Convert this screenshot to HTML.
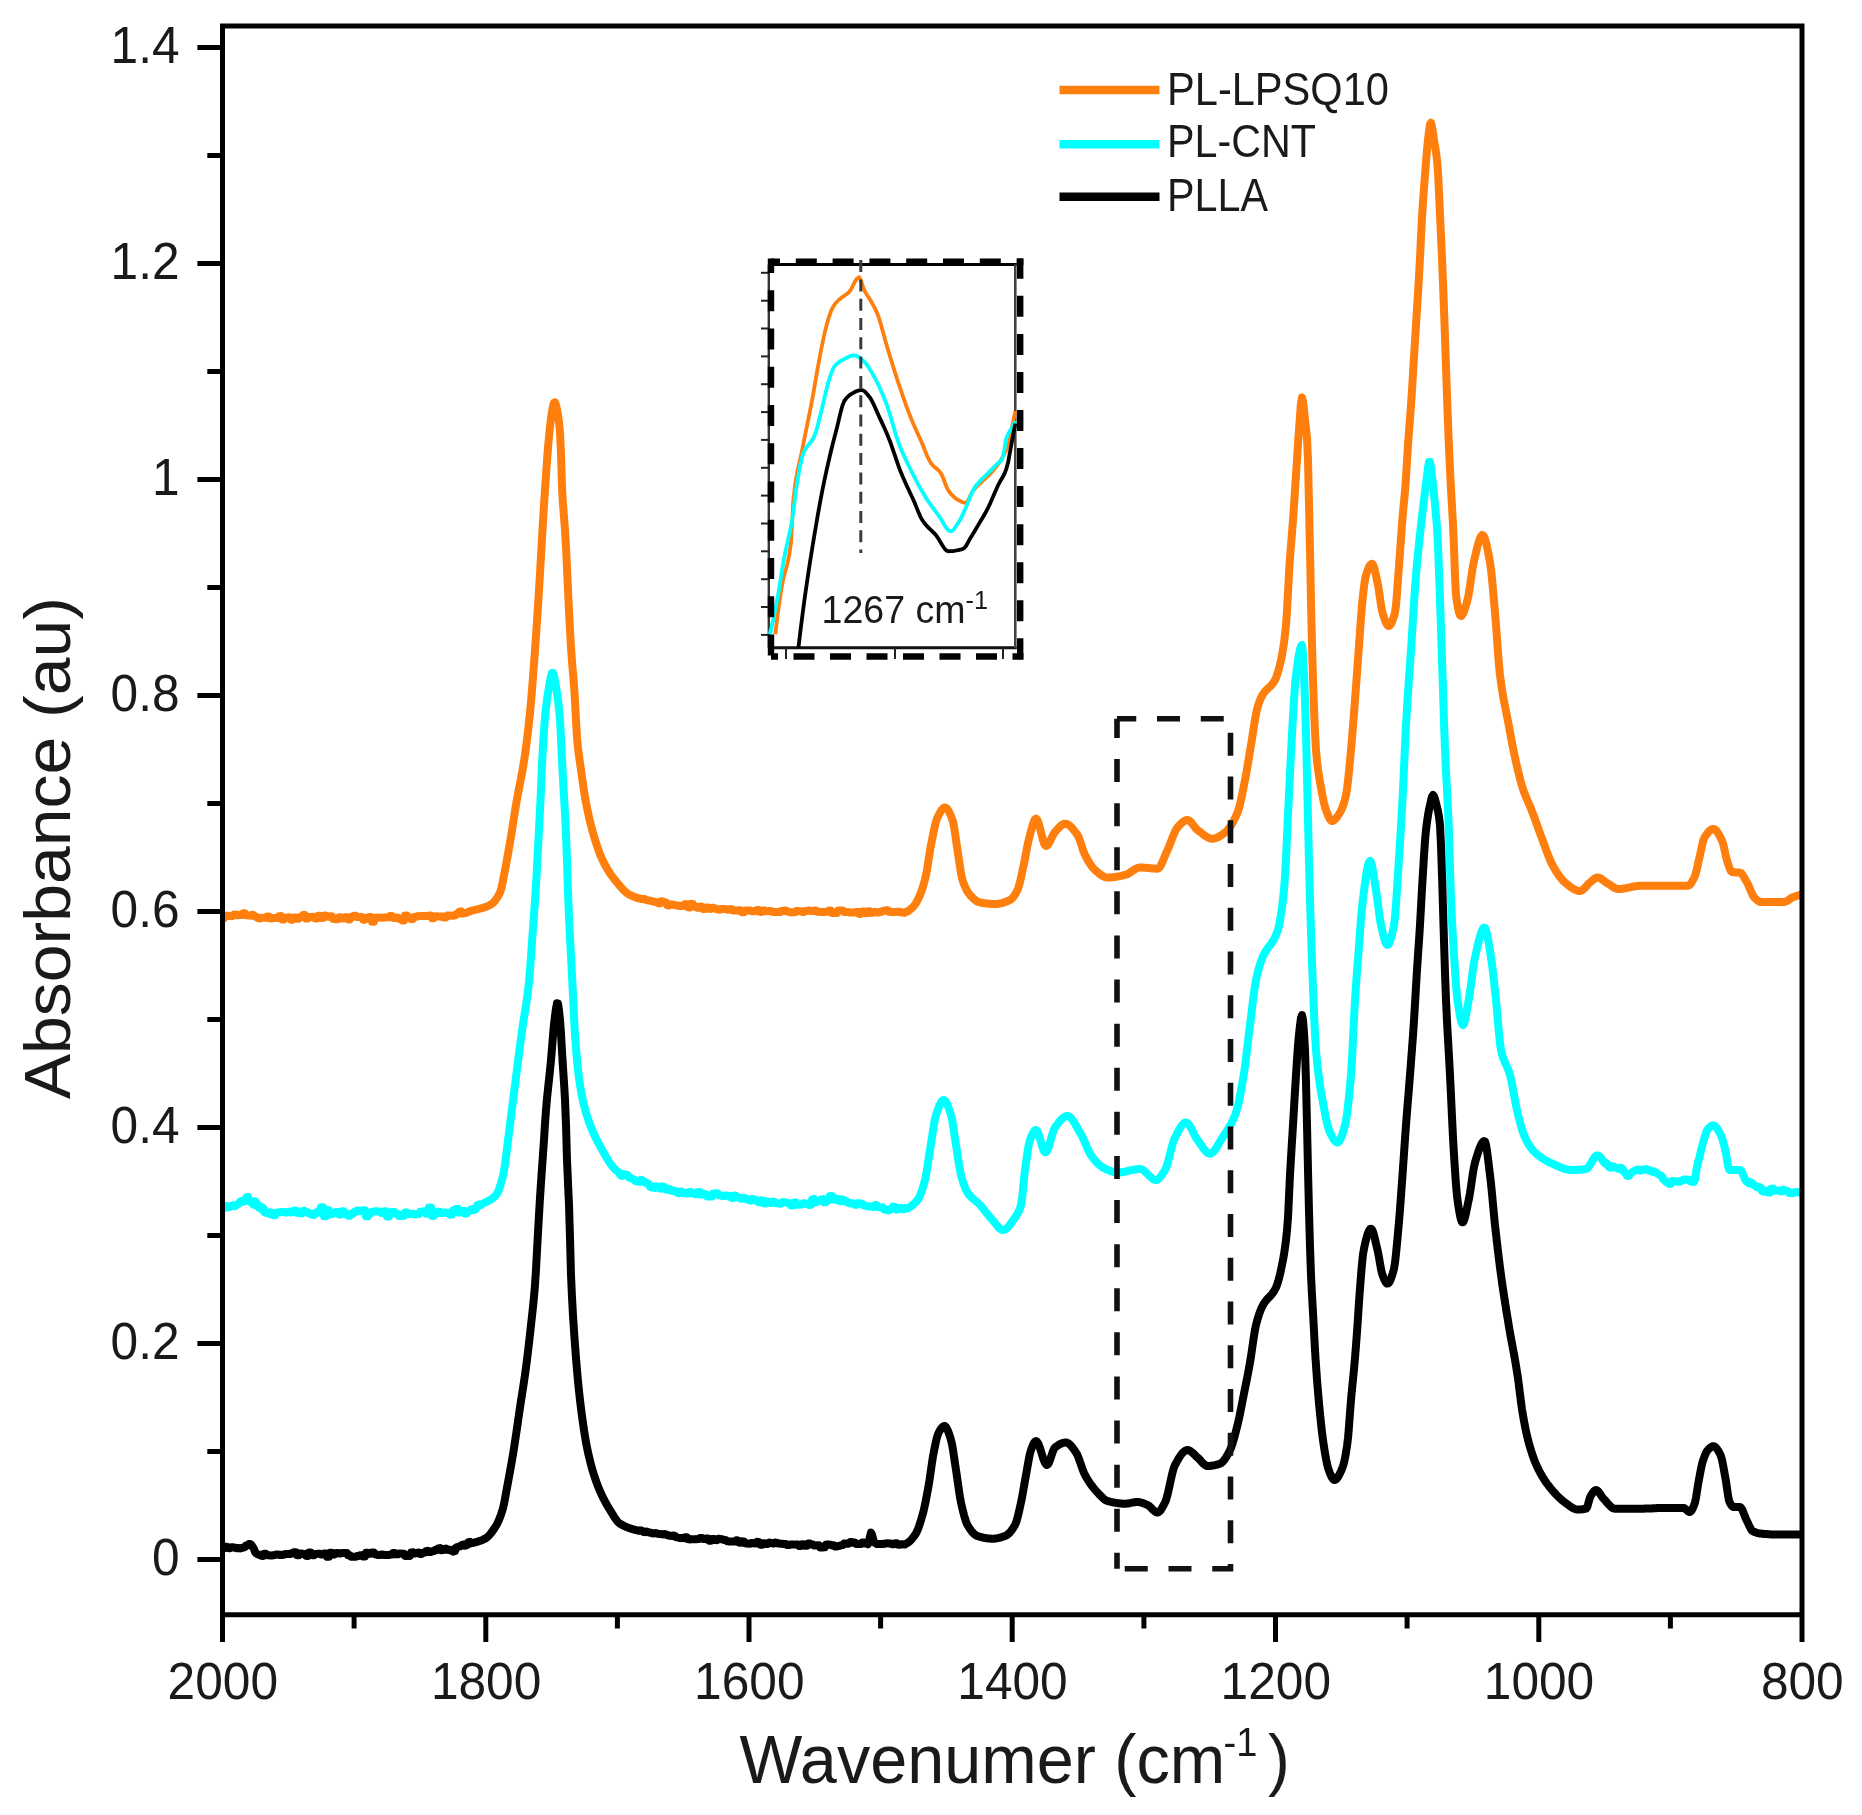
<!DOCTYPE html>
<html lang="en"><head><meta charset="utf-8"><title>FTIR absorbance spectra</title>
<style>html,body{margin:0;padding:0;background:#fff}svg{display:block;filter:blur(0.6px)}text{font-family:"Liberation Sans",Arial,Helvetica,sans-serif;fill:#1a1a1a}</style></head><body>
<svg width="1862" height="1815" viewBox="0 0 1862 1815">
<rect x="0" y="0" width="1862" height="1815" fill="#ffffff"/>
<clipPath id="pc"><rect x="222.5" y="26.0" width="1579.5" height="1588.8"/></clipPath>
<g fill="none" stroke-linejoin="round" stroke-linecap="butt" clip-path="url(#pc)">
<path stroke="#ff7f0e" stroke-width="8.0" d="M222.0 918.8 L223.0 918.6 L224.0 918.4 L225.0 915.9 L226.0 915.8 L227.0 915.6 L228.0 916.0 L229.0 915.9 L230.0 915.8 L231.0 916.0 L232.0 916.0 L233.0 915.9 L234.0 914.6 L235.0 914.5 L236.0 914.4 L237.0 915.2 L238.0 915.2 L239.0 915.1 L240.0 915.1 L241.0 915.1 L242.0 915.0 L243.0 913.2 L244.0 913.2 L245.0 913.2 L246.0 915.3 L247.0 915.3 L248.0 915.3 L249.0 915.6 L250.0 915.6 L251.0 915.7 L252.0 914.7 L253.0 915.0 L254.0 915.4 L255.0 916.3 L256.0 916.8 L257.0 917.2 L258.0 918.2 L259.0 918.4 L260.0 918.5 L261.0 917.7 L262.0 917.7 L263.0 917.7 L264.0 917.7 L265.0 917.7 L266.0 917.7 L267.0 916.4 L268.0 916.4 L269.0 916.4 L270.0 918.5 L271.0 918.5 L272.0 918.5 L273.0 918.0 L274.0 918.0 L275.0 918.0 L276.0 918.1 L277.0 918.1 L278.0 918.1 L279.0 916.2 L280.0 916.2 L281.0 916.1 L282.0 919.4 L283.0 919.4 L284.0 919.4 L285.0 917.8 L286.0 917.8 L287.0 917.8 L288.0 917.2 L289.0 917.2 L290.0 917.2 L291.0 919.7 L292.0 919.7 L293.0 919.7 L294.0 917.5 L295.0 917.5 L296.0 917.5 L297.0 918.7 L298.0 918.7 L299.0 918.7 L300.0 917.1 L301.0 917.1 L302.0 917.1 L303.0 915.1 L304.0 915.1 L305.0 915.1 L306.0 918.6 L307.0 918.6 L308.0 918.6 L309.0 917.1 L310.0 917.1 L311.0 917.1 L312.0 916.7 L313.0 916.7 L314.0 916.7 L315.0 918.6 L316.0 918.6 L317.0 918.6 L318.0 915.8 L319.0 915.8 L320.0 915.8 L321.0 918.1 L322.0 918.1 L323.0 918.1 L324.0 915.4 L325.0 915.4 L326.0 915.4 L327.0 916.8 L328.0 916.8 L329.0 916.8 L330.0 916.2 L331.0 916.2 L332.0 916.2 L333.0 919.0 L334.0 919.0 L335.0 919.0 L336.0 919.3 L337.0 919.3 L338.0 919.3 L339.0 917.2 L340.0 917.2 L341.0 917.2 L342.0 918.4 L343.0 918.4 L344.0 918.4 L345.0 917.3 L346.0 917.3 L347.0 917.3 L348.0 919.4 L349.0 919.4 L350.0 919.4 L351.0 916.7 L352.0 916.7 L353.0 916.7 L354.0 915.7 L355.0 915.7 L356.0 915.7 L357.0 917.0 L358.0 917.0 L359.0 917.0 L360.0 916.9 L361.0 916.9 L362.0 916.9 L363.0 919.8 L364.0 919.8 L365.0 919.8 L366.0 917.8 L367.0 917.8 L368.0 917.8 L369.0 917.0 L370.0 917.0 L371.0 917.0 L372.0 921.7 L373.0 921.7 L374.0 921.7 L375.0 917.7 L376.0 917.7 L377.0 917.7 L378.0 917.6 L379.0 917.6 L380.0 917.6 L381.0 917.8 L382.0 917.8 L383.0 917.8 L384.0 917.4 L385.0 917.4 L386.0 917.4 L387.0 917.2 L388.0 917.2 L389.0 917.2 L390.0 916.0 L391.0 916.0 L392.0 916.0 L393.0 918.0 L394.0 918.0 L395.0 918.0 L396.0 917.4 L397.0 917.4 L398.0 917.4 L399.0 918.7 L400.0 918.7 L401.0 918.7 L402.0 920.4 L403.0 920.4 L404.0 920.4 L405.0 915.5 L406.0 915.5 L407.0 915.5 L408.0 917.3 L409.0 917.3 L410.0 917.3 L411.0 919.2 L412.0 919.1 L413.0 919.1 L414.0 916.9 L415.0 916.9 L416.0 916.9 L417.0 916.3 L418.0 916.3 L419.0 916.3 L420.0 915.9 L421.0 915.9 L422.0 915.9 L423.0 916.0 L424.0 915.9 L425.0 915.9 L426.0 916.0 L427.0 915.9 L428.0 915.9 L429.0 915.6 L430.0 915.6 L431.0 915.5 L432.0 918.3 L433.0 918.2 L434.0 918.2 L435.0 916.3 L436.0 916.2 L437.0 916.2 L438.0 916.5 L439.0 916.5 L440.0 916.4 L441.0 916.7 L442.0 916.6 L443.0 916.6 L444.0 917.6 L445.0 917.6 L446.0 917.5 L447.0 915.6 L448.0 915.5 L449.0 915.4 L450.0 915.8 L451.0 915.7 L452.0 915.5 L453.0 915.8 L454.0 915.6 L455.0 915.4 L456.0 914.2 L457.0 914.0 L458.0 913.8 L459.0 911.9 L460.0 911.6 L461.0 911.4 L462.0 913.7 L463.0 913.4 L464.0 913.2 L465.0 913.2 L466.0 912.9 L467.0 912.7 L468.0 911.9 L469.0 911.7 L470.0 911.4 L471.0 910.8 L472.0 910.5 L473.0 910.3 L474.0 910.1 L475.0 909.9 L476.0 909.6 L477.0 909.4 L478.0 909.2 L479.0 908.9 L480.0 908.7 L481.0 908.4 L482.0 908.1 L483.0 907.8 L484.0 907.5 L485.0 907.2 L486.0 906.8 L487.0 906.4 L488.0 906.0 L489.0 905.5 L490.0 905.0 L491.0 904.4 L492.0 903.7 L493.0 902.9 L494.0 901.9 L495.0 900.7 L496.0 899.4 L497.0 897.9 L498.0 896.3 L499.0 894.5 L500.0 892.5 L501.0 889.6 L502.0 885.5 L503.0 880.5 L504.0 875.2 L505.0 870.0 L506.0 864.9 L507.0 859.6 L508.0 854.0 L509.0 848.3 L510.0 842.5 L511.0 836.5 L512.0 830.3 L513.0 823.9 L514.0 817.5 L515.0 811.1 L516.0 805.0 L517.0 799.1 L518.0 793.7 L519.0 788.5 L520.0 783.4 L521.0 778.3 L522.0 773.0 L523.0 767.3 L524.0 761.3 L525.0 754.6 L526.0 747.4 L527.0 739.6 L528.0 731.2 L529.0 722.2 L530.0 712.5 L531.0 701.8 L532.0 689.9 L533.0 677.0 L534.0 663.6 L535.0 650.0 L536.0 636.0 L537.0 621.2 L538.0 606.0 L539.0 590.2 L540.0 573.4 L541.0 555.8 L542.0 538.2 L543.0 521.0 L544.0 505.0 L545.0 489.8 L546.0 474.9 L547.0 460.8 L548.0 447.9 L549.0 436.8 L550.0 426.8 L551.0 418.3 L552.0 412.0 L553.0 406.3 L554.0 402.6 L555.0 402.4 L556.0 405.1 L557.0 409.6 L558.0 415.0 L559.0 422.0 L560.0 432.8 L561.0 453.5 L562.0 487.5 L563.0 504.5 L564.0 517.1 L565.0 529.7 L566.0 546.7 L567.0 568.0 L568.0 590.4 L569.0 610.9 L570.0 630.3 L571.0 647.5 L572.0 661.2 L573.0 673.1 L574.0 685.5 L575.0 700.9 L576.0 720.5 L577.0 737.6 L578.0 748.0 L579.0 756.1 L580.0 763.1 L581.0 770.0 L582.0 777.2 L583.0 784.3 L584.0 791.0 L585.0 797.2 L586.0 802.7 L587.0 807.8 L588.0 812.6 L589.0 817.1 L590.0 821.4 L591.0 825.4 L592.0 829.2 L593.0 832.8 L594.0 836.2 L595.0 839.5 L596.0 842.8 L597.0 845.8 L598.0 848.8 L599.0 851.6 L600.0 854.2 L601.0 856.7 L602.0 858.9 L603.0 861.0 L604.0 863.0 L605.0 864.9 L606.0 866.7 L607.0 868.5 L608.0 870.1 L609.0 871.7 L610.0 873.2 L611.0 874.7 L612.0 876.1 L613.0 877.4 L614.0 878.7 L615.0 880.0 L616.0 881.2 L617.0 882.5 L618.0 883.7 L619.0 884.9 L620.0 886.1 L621.0 887.3 L622.0 888.4 L623.0 889.5 L624.0 890.5 L625.0 891.4 L626.0 892.3 L627.0 893.1 L628.0 893.8 L629.0 894.5 L630.0 895.0 L631.0 895.5 L632.0 895.9 L633.0 896.3 L634.0 896.7 L635.0 897.1 L636.0 897.4 L637.0 897.8 L638.0 898.1 L639.0 898.4 L640.0 898.7 L641.0 899.0 L642.0 899.2 L643.0 898.8 L644.0 899.0 L645.0 899.2 L646.0 900.0 L647.0 900.2 L648.0 900.4 L649.0 900.5 L650.0 900.7 L651.0 900.9 L652.0 901.2 L653.0 901.4 L654.0 901.6 L655.0 901.9 L656.0 902.1 L657.0 902.3 L658.0 903.1 L659.0 903.3 L660.0 903.5 L661.0 901.2 L662.0 901.3 L663.0 901.5 L664.0 902.2 L665.0 902.4 L666.0 902.5 L667.0 905.2 L668.0 905.3 L669.0 905.4 L670.0 904.4 L671.0 904.5 L672.0 904.6 L673.0 904.7 L674.0 904.9 L675.0 905.0 L676.0 905.3 L677.0 905.5 L678.0 905.6 L679.0 905.9 L680.0 906.0 L681.0 906.1 L682.0 905.5 L683.0 905.6 L684.0 905.7 L685.0 904.1 L686.0 904.2 L687.0 904.3 L688.0 907.3 L689.0 907.4 L690.0 907.5 L691.0 903.8 L692.0 903.9 L693.0 904.0 L694.0 906.5 L695.0 906.6 L696.0 906.7 L697.0 907.7 L698.0 907.8 L699.0 907.9 L700.0 906.5 L701.0 906.6 L702.0 906.7 L703.0 908.9 L704.0 909.0 L705.0 909.1 L706.0 907.5 L707.0 907.6 L708.0 907.6 L709.0 908.7 L710.0 908.8 L711.0 908.9 L712.0 907.8 L713.0 907.8 L714.0 907.9 L715.0 908.7 L716.0 908.8 L717.0 908.9 L718.0 909.6 L719.0 909.6 L720.0 909.7 L721.0 909.0 L722.0 909.1 L723.0 909.1 L724.0 909.0 L725.0 909.1 L726.0 909.2 L727.0 909.7 L728.0 909.8 L729.0 909.8 L730.0 909.1 L731.0 909.2 L732.0 909.2 L733.0 910.5 L734.0 910.5 L735.0 910.6 L736.0 910.5 L737.0 910.6 L738.0 910.7 L739.0 910.3 L740.0 910.3 L741.0 910.4 L742.0 912.3 L743.0 912.3 L744.0 912.3 L745.0 910.5 L746.0 910.6 L747.0 910.6 L748.0 910.4 L749.0 910.4 L750.0 910.5 L751.0 911.1 L752.0 911.2 L753.0 911.2 L754.0 911.1 L755.0 911.1 L756.0 911.2 L757.0 910.1 L758.0 910.1 L759.0 910.1 L760.0 911.9 L761.0 911.9 L762.0 911.9 L763.0 910.5 L764.0 910.5 L765.0 910.5 L766.0 911.2 L767.0 911.3 L768.0 911.3 L769.0 910.9 L770.0 910.9 L771.0 911.0 L772.0 911.9 L773.0 911.9 L774.0 911.9 L775.0 912.1 L776.0 912.1 L777.0 912.1 L778.0 912.0 L779.0 912.1 L780.0 912.1 L781.0 911.1 L782.0 911.1 L783.0 911.1 L784.0 910.6 L785.0 910.6 L786.0 910.6 L787.0 911.6 L788.0 911.6 L789.0 911.7 L790.0 912.3 L791.0 912.3 L792.0 912.4 L793.0 912.2 L794.0 912.2 L795.0 912.2 L796.0 911.1 L797.0 911.1 L798.0 911.1 L799.0 911.2 L800.0 911.2 L801.0 911.2 L802.0 911.9 L803.0 911.9 L804.0 912.0 L805.0 910.9 L806.0 910.9 L807.0 911.0 L808.0 910.6 L809.0 910.6 L810.0 910.6 L811.0 911.0 L812.0 911.0 L813.0 911.0 L814.0 910.6 L815.0 910.6 L816.0 910.6 L817.0 911.7 L818.0 911.7 L819.0 911.7 L820.0 912.0 L821.0 912.0 L822.0 912.0 L823.0 911.9 L824.0 911.9 L825.0 911.9 L826.0 911.7 L827.0 911.7 L828.0 911.7 L829.0 910.6 L830.0 910.6 L831.0 910.6 L832.0 913.1 L833.0 913.1 L834.0 913.1 L835.0 913.1 L836.0 913.1 L837.0 913.1 L838.0 910.5 L839.0 910.5 L840.0 910.5 L841.0 910.6 L842.0 910.6 L843.0 910.6 L844.0 912.0 L845.0 912.0 L846.0 912.0 L847.0 912.1 L848.0 912.1 L849.0 912.1 L850.0 912.6 L851.0 912.6 L852.0 912.6 L853.0 912.4 L854.0 912.4 L855.0 912.4 L856.0 912.0 L857.0 912.0 L858.0 912.0 L859.0 913.9 L860.0 913.9 L861.0 913.9 L862.0 911.5 L863.0 911.5 L864.0 911.5 L865.0 913.3 L866.0 913.3 L867.0 913.3 L868.0 911.2 L869.0 911.2 L870.0 911.2 L871.0 912.8 L872.0 912.8 L873.0 912.8 L874.0 912.1 L875.0 912.1 L876.0 912.1 L877.0 912.6 L878.0 912.6 L879.0 912.6 L880.0 911.7 L881.0 911.7 L882.0 911.7 L883.0 910.8 L884.0 910.8 L885.0 910.8 L886.0 910.2 L887.0 910.2 L888.0 910.2 L889.0 911.8 L890.0 911.8 L891.0 911.8 L892.0 912.1 L893.0 912.1 L894.0 912.1 L895.0 912.0 L896.0 912.0 L897.0 912.0 L898.0 911.7 L899.0 911.7 L900.0 911.7 L901.0 912.4 L902.0 912.4 L903.0 912.4 L904.0 912.7 L905.0 912.7 L906.0 911.9 L907.0 911.6 L908.0 911.1 L909.0 910.4 L910.0 909.6 L911.0 908.8 L912.0 907.9 L913.0 907.0 L914.0 905.9 L915.0 904.5 L916.0 903.0 L917.0 901.2 L918.0 899.3 L919.0 897.2 L920.0 895.0 L921.0 892.6 L922.0 889.7 L923.0 886.6 L924.0 883.0 L925.0 879.2 L926.0 875.0 L927.0 869.9 L928.0 863.7 L929.0 857.1 L930.0 850.6 L931.0 845.0 L932.0 839.9 L933.0 834.9 L934.0 830.0 L935.0 825.6 L936.0 821.7 L937.0 818.7 L938.0 816.5 L939.0 814.5 L940.0 812.6 L941.0 811.0 L942.0 809.5 L943.0 808.5 L944.0 807.7 L945.0 807.5 L946.0 807.8 L947.0 808.6 L948.0 809.9 L949.0 811.7 L950.0 813.7 L951.0 816.1 L952.0 818.7 L953.0 821.7 L954.0 826.6 L955.0 832.9 L956.0 840.0 L957.0 846.9 L958.0 853.1 L959.0 859.9 L960.0 866.8 L961.0 873.1 L962.0 878.2 L963.0 881.5 L964.0 884.3 L965.0 886.7 L966.0 888.9 L967.0 890.8 L968.0 892.4 L969.0 893.8 L970.0 895.0 L971.0 896.1 L972.0 897.1 L973.0 898.1 L974.0 899.1 L975.0 899.9 L976.0 900.7 L977.0 901.3 L978.0 901.8 L979.0 902.2 L980.0 902.5 L981.0 902.7 L982.0 902.9 L983.0 903.0 L984.0 903.2 L985.0 903.3 L986.0 903.4 L987.0 903.5 L988.0 903.6 L989.0 903.7 L990.0 903.8 L991.0 903.9 L992.0 903.9 L993.0 904.0 L994.0 904.0 L995.0 904.0 L996.0 904.0 L997.0 903.9 L998.0 903.8 L999.0 903.7 L1000.0 903.5 L1001.0 903.3 L1002.0 903.0 L1003.0 902.8 L1004.0 902.4 L1005.0 902.1 L1006.0 901.7 L1007.0 901.3 L1008.0 900.9 L1009.0 900.5 L1010.0 900.0 L1011.0 899.4 L1012.0 898.5 L1013.0 897.4 L1014.0 896.1 L1015.0 894.6 L1016.0 892.9 L1017.0 891.0 L1018.0 888.8 L1019.0 885.8 L1020.0 882.0 L1021.0 877.6 L1022.0 872.9 L1023.0 868.2 L1024.0 863.6 L1025.0 858.6 L1026.0 853.1 L1027.0 847.8 L1028.0 842.9 L1029.0 838.9 L1030.0 834.9 L1031.0 830.9 L1032.0 827.2 L1033.0 823.8 L1034.0 821.1 L1035.0 819.3 L1036.0 818.7 L1037.0 819.5 L1038.0 821.5 L1039.0 824.6 L1040.0 828.3 L1041.0 832.4 L1042.0 836.4 L1043.0 840.1 L1044.0 843.2 L1045.0 845.2 L1046.0 846.0 L1047.0 845.6 L1048.0 844.6 L1049.0 843.1 L1050.0 841.2 L1051.0 839.2 L1052.0 837.1 L1053.0 835.1 L1054.0 833.3 L1055.0 832.0 L1056.0 830.9 L1057.0 829.7 L1058.0 828.6 L1059.0 827.5 L1060.0 826.5 L1061.0 825.6 L1062.0 824.8 L1063.0 824.2 L1064.0 823.8 L1065.0 823.7 L1066.0 823.8 L1067.0 824.1 L1068.0 824.6 L1069.0 825.2 L1070.0 826.0 L1071.0 826.9 L1072.0 827.9 L1073.0 829.1 L1074.0 830.3 L1075.0 831.6 L1076.0 832.9 L1077.0 834.3 L1078.0 835.8 L1079.0 838.0 L1080.0 840.7 L1081.0 843.7 L1082.0 846.9 L1083.0 849.9 L1084.0 852.7 L1085.0 855.0 L1086.0 856.9 L1087.0 858.8 L1088.0 860.6 L1089.0 862.2 L1090.0 863.8 L1091.0 865.3 L1092.0 866.7 L1093.0 867.9 L1094.0 869.0 L1095.0 870.0 L1096.0 870.9 L1097.0 871.7 L1098.0 872.6 L1099.0 873.4 L1100.0 874.2 L1101.0 874.9 L1102.0 875.6 L1103.0 876.2 L1104.0 876.7 L1105.0 877.1 L1106.0 877.3 L1107.0 877.5 L1108.0 877.5 L1109.0 877.5 L1110.0 877.4 L1111.0 877.4 L1112.0 877.3 L1113.0 877.2 L1114.0 877.1 L1115.0 876.9 L1116.0 876.8 L1117.0 876.6 L1118.0 876.4 L1119.0 876.3 L1120.0 876.1 L1121.0 875.9 L1122.0 875.7 L1123.0 875.4 L1124.0 875.2 L1125.0 875.0 L1126.0 874.7 L1127.0 874.3 L1128.0 873.8 L1129.0 873.2 L1130.0 872.6 L1131.0 871.9 L1132.0 871.2 L1133.0 870.5 L1134.0 869.8 L1135.0 869.2 L1136.0 868.6 L1137.0 868.2 L1138.0 867.8 L1139.0 867.6 L1140.0 867.5 L1141.0 867.5 L1142.0 867.5 L1143.0 867.6 L1144.0 867.7 L1145.0 867.7 L1146.0 867.8 L1147.0 867.9 L1148.0 868.0 L1149.0 868.1 L1150.0 868.2 L1151.0 868.3 L1152.0 868.4 L1153.0 868.5 L1154.0 868.6 L1155.0 868.6 L1156.0 868.7 L1157.0 868.7 L1158.0 868.6 L1159.0 868.0 L1160.0 866.7 L1161.0 865.1 L1162.0 863.0 L1163.0 860.7 L1164.0 858.3 L1165.0 855.8 L1166.0 853.3 L1167.0 851.1 L1168.0 848.9 L1169.0 846.6 L1170.0 844.1 L1171.0 841.5 L1172.0 838.9 L1173.0 836.3 L1174.0 833.9 L1175.0 831.6 L1176.0 829.7 L1177.0 828.1 L1178.0 826.9 L1179.0 825.8 L1180.0 824.7 L1181.0 823.7 L1182.0 822.8 L1183.0 821.9 L1184.0 821.2 L1185.0 820.6 L1186.0 820.2 L1187.0 820.0 L1188.0 820.1 L1189.0 820.5 L1190.0 821.2 L1191.0 822.2 L1192.0 823.4 L1193.0 824.7 L1194.0 826.1 L1195.0 827.4 L1196.0 828.6 L1197.0 829.6 L1198.0 830.4 L1199.0 831.2 L1200.0 831.9 L1201.0 832.7 L1202.0 833.5 L1203.0 834.3 L1204.0 835.0 L1205.0 835.8 L1206.0 836.4 L1207.0 837.0 L1208.0 837.5 L1209.0 838.0 L1210.0 838.3 L1211.0 838.6 L1212.0 838.7 L1213.0 838.7 L1214.0 838.6 L1215.0 838.4 L1216.0 838.0 L1217.0 837.7 L1218.0 837.2 L1219.0 836.6 L1220.0 836.0 L1221.0 835.4 L1222.0 834.7 L1223.0 834.0 L1224.0 833.3 L1225.0 832.5 L1226.0 831.7 L1227.0 830.7 L1228.0 829.6 L1229.0 828.4 L1230.0 827.0 L1231.0 825.5 L1232.0 823.9 L1233.0 822.1 L1234.0 820.2 L1235.0 818.2 L1236.0 816.0 L1237.0 813.7 L1238.0 811.2 L1239.0 808.0 L1240.0 804.2 L1241.0 799.8 L1242.0 795.1 L1243.0 790.1 L1244.0 785.1 L1245.0 780.0 L1246.0 774.7 L1247.0 769.1 L1248.0 763.1 L1249.0 757.0 L1250.0 750.9 L1251.0 745.0 L1252.0 738.9 L1253.0 732.4 L1254.0 725.9 L1255.0 719.7 L1256.0 714.1 L1257.0 709.4 L1258.0 705.8 L1259.0 702.8 L1260.0 700.2 L1261.0 697.9 L1262.0 695.9 L1263.0 694.2 L1264.0 692.7 L1265.0 691.5 L1266.0 690.4 L1267.0 689.4 L1268.0 688.4 L1269.0 687.5 L1270.0 686.6 L1271.0 685.6 L1272.0 684.5 L1273.0 683.2 L1274.0 681.7 L1275.0 680.0 L1276.0 677.9 L1277.0 675.2 L1278.0 672.0 L1279.0 668.4 L1280.0 664.4 L1281.0 660.0 L1282.0 655.1 L1283.0 649.3 L1284.0 642.5 L1285.0 634.4 L1286.0 625.0 L1287.0 610.9 L1288.0 592.1 L1289.0 573.1 L1290.0 558.0 L1291.0 545.2 L1292.0 533.0 L1293.0 520.0 L1294.0 505.5 L1295.0 490.3 L1296.0 475.0 L1297.0 459.5 L1298.0 443.9 L1299.0 430.0 L1300.0 416.0 L1301.0 403.1 L1302.0 397.5 L1303.0 401.4 L1304.0 410.3 L1305.0 420.0 L1306.0 427.9 L1307.0 437.7 L1308.0 459.6 L1309.0 505.0 L1310.0 550.0 L1311.0 601.7 L1312.0 644.8 L1313.0 679.6 L1314.0 708.0 L1315.0 732.6 L1316.0 750.0 L1317.0 760.6 L1318.0 769.0 L1319.0 775.9 L1320.0 781.9 L1321.0 787.5 L1322.0 793.0 L1323.0 798.2 L1324.0 802.9 L1325.0 806.9 L1326.0 810.0 L1327.0 812.6 L1328.0 815.2 L1329.0 817.5 L1330.0 819.3 L1331.0 820.6 L1332.0 821.0 L1333.0 820.8 L1334.0 820.3 L1335.0 819.4 L1336.0 818.3 L1337.0 817.1 L1338.0 815.6 L1339.0 814.1 L1340.0 812.5 L1341.0 810.7 L1342.0 808.5 L1343.0 805.9 L1344.0 802.8 L1345.0 799.2 L1346.0 795.0 L1347.0 789.1 L1348.0 781.0 L1349.0 771.3 L1350.0 760.7 L1351.0 750.0 L1352.0 738.7 L1353.0 726.2 L1354.0 713.1 L1355.0 700.0 L1356.0 686.7 L1357.0 673.1 L1358.0 659.4 L1359.0 645.9 L1360.0 631.6 L1361.0 617.5 L1362.0 605.1 L1363.0 595.4 L1364.0 586.8 L1365.0 579.7 L1366.0 575.0 L1367.0 572.0 L1368.0 569.3 L1369.0 567.0 L1370.0 565.2 L1371.0 564.1 L1372.0 563.7 L1373.0 564.7 L1374.0 567.3 L1375.0 571.1 L1376.0 575.6 L1377.0 580.3 L1378.0 585.0 L1379.0 591.2 L1380.0 598.2 L1381.0 605.0 L1382.0 610.5 L1383.0 614.1 L1384.0 617.3 L1385.0 620.2 L1386.0 622.7 L1387.0 624.6 L1388.0 625.8 L1389.0 626.0 L1390.0 625.3 L1391.0 624.0 L1392.0 621.9 L1393.0 619.3 L1394.0 616.1 L1395.0 612.5 L1396.0 605.3 L1397.0 593.3 L1398.0 579.3 L1399.0 566.2 L1400.0 552.4 L1401.0 538.1 L1402.0 524.3 L1403.0 512.2 L1404.0 501.9 L1405.0 491.2 L1406.0 477.8 L1407.0 461.2 L1408.0 445.0 L1409.0 431.4 L1410.0 418.6 L1411.0 405.0 L1412.0 389.8 L1413.0 373.7 L1414.0 357.5 L1415.0 341.3 L1416.0 325.0 L1417.0 309.0 L1418.0 293.0 L1419.0 276.3 L1420.0 257.8 L1421.0 236.7 L1422.0 217.5 L1423.0 201.9 L1424.0 188.0 L1425.0 175.0 L1426.0 162.1 L1427.0 149.9 L1428.0 140.0 L1429.0 131.3 L1430.0 124.3 L1431.0 122.8 L1432.0 126.6 L1433.0 133.2 L1434.0 140.0 L1435.0 145.9 L1436.0 152.1 L1437.0 160.0 L1438.0 172.0 L1439.0 192.5 L1440.0 215.0 L1441.0 236.1 L1442.0 258.2 L1443.0 282.5 L1444.0 309.5 L1445.0 337.5 L1446.0 366.8 L1447.0 396.3 L1448.0 423.0 L1449.0 447.6 L1450.0 470.0 L1451.0 489.3 L1452.0 506.8 L1453.0 524.9 L1454.0 547.4 L1455.0 576.1 L1456.0 595.0 L1457.0 602.1 L1458.0 608.0 L1459.0 612.3 L1460.0 615.1 L1461.0 616.0 L1462.0 615.4 L1463.0 613.9 L1464.0 611.5 L1465.0 608.6 L1466.0 605.3 L1467.0 601.8 L1468.0 598.0 L1469.0 592.6 L1470.0 586.0 L1471.0 578.9 L1472.0 572.0 L1473.0 565.9 L1474.0 561.2 L1475.0 556.9 L1476.0 552.6 L1477.0 548.4 L1478.0 544.5 L1479.0 541.1 L1480.0 538.3 L1481.0 536.2 L1482.0 535.1 L1483.0 535.2 L1484.0 536.5 L1485.0 539.1 L1486.0 542.6 L1487.0 546.8 L1488.0 551.7 L1489.0 557.0 L1490.0 562.5 L1491.0 569.5 L1492.0 578.8 L1493.0 589.6 L1494.0 601.1 L1495.0 612.5 L1496.0 624.8 L1497.0 638.6 L1498.0 652.5 L1499.0 665.1 L1500.0 675.0 L1501.0 682.7 L1502.0 689.5 L1503.0 695.6 L1504.0 701.1 L1505.0 706.3 L1506.0 711.3 L1507.0 716.2 L1508.0 721.3 L1509.0 726.6 L1510.0 732.1 L1511.0 737.4 L1512.0 742.7 L1513.0 747.9 L1514.0 752.8 L1515.0 757.5 L1516.0 762.0 L1517.0 766.4 L1518.0 770.7 L1519.0 774.8 L1520.0 778.8 L1521.0 782.5 L1522.0 785.9 L1523.0 789.0 L1524.0 791.9 L1525.0 794.6 L1526.0 797.1 L1527.0 799.4 L1528.0 801.8 L1529.0 804.1 L1530.0 806.4 L1531.0 808.7 L1532.0 811.2 L1533.0 813.8 L1534.0 816.5 L1535.0 819.3 L1536.0 822.0 L1537.0 824.8 L1538.0 827.7 L1539.0 830.5 L1540.0 833.2 L1541.0 836.0 L1542.0 838.7 L1543.0 841.3 L1544.0 844.0 L1545.0 846.7 L1546.0 849.5 L1547.0 852.2 L1548.0 854.8 L1549.0 857.4 L1550.0 859.8 L1551.0 862.0 L1552.0 864.1 L1553.0 865.9 L1554.0 867.7 L1555.0 869.4 L1556.0 871.1 L1557.0 872.7 L1558.0 874.2 L1559.0 875.7 L1560.0 877.0 L1561.0 878.3 L1562.0 879.5 L1563.0 880.6 L1564.0 881.6 L1565.0 882.5 L1566.0 883.3 L1567.0 884.1 L1568.0 885.0 L1569.0 885.7 L1570.0 886.5 L1571.0 887.3 L1572.0 888.0 L1573.0 888.6 L1574.0 889.2 L1575.0 889.7 L1576.0 890.1 L1577.0 890.5 L1578.0 890.8 L1579.0 890.9 L1580.0 891.0 L1581.0 890.8 L1582.0 890.4 L1583.0 889.6 L1584.0 888.7 L1585.0 887.7 L1586.0 886.6 L1587.0 885.4 L1588.0 884.3 L1589.0 883.3 L1590.0 882.5 L1591.0 881.7 L1592.0 880.8 L1593.0 879.9 L1594.0 879.1 L1595.0 878.4 L1596.0 877.8 L1597.0 877.5 L1598.0 877.5 L1599.0 877.8 L1600.0 878.2 L1601.0 878.7 L1602.0 879.4 L1603.0 880.2 L1604.0 880.9 L1605.0 881.7 L1606.0 882.4 L1607.0 883.0 L1608.0 883.6 L1609.0 884.2 L1610.0 884.9 L1611.0 885.6 L1612.0 886.3 L1613.0 887.0 L1614.0 887.6 L1615.0 888.1 L1616.0 888.5 L1617.0 888.8 L1618.0 889.0 L1619.0 889.0 L1620.0 889.0 L1621.0 888.9 L1622.0 888.8 L1623.0 888.6 L1624.0 888.5 L1625.0 888.3 L1626.0 888.1 L1627.0 887.9 L1628.0 887.7 L1629.0 887.5 L1630.0 887.3 L1631.0 887.1 L1632.0 886.9 L1633.0 886.6 L1634.0 886.5 L1635.0 886.3 L1636.0 886.1 L1637.0 886.0 L1638.0 885.9 L1639.0 885.8 L1640.0 885.7 L1641.0 885.7 L1642.0 885.7 L1643.0 885.7 L1644.0 885.7 L1645.0 885.7 L1646.0 885.7 L1647.0 885.7 L1648.0 885.7 L1649.0 885.7 L1650.0 885.7 L1651.0 885.7 L1652.0 885.7 L1653.0 885.7 L1654.0 885.7 L1655.0 885.7 L1656.0 885.7 L1657.0 885.7 L1658.0 885.7 L1659.0 885.7 L1660.0 885.7 L1661.0 885.7 L1662.0 885.7 L1663.0 885.7 L1664.0 885.7 L1665.0 885.7 L1666.0 885.7 L1667.0 885.7 L1668.0 885.7 L1669.0 885.7 L1670.0 885.7 L1671.0 885.7 L1672.0 885.7 L1673.0 885.7 L1674.0 885.7 L1675.0 885.7 L1676.0 885.7 L1677.0 885.7 L1678.0 885.7 L1679.0 885.7 L1680.0 885.7 L1681.0 885.7 L1682.0 885.7 L1683.0 885.7 L1684.0 885.7 L1685.0 885.7 L1686.0 885.7 L1687.0 885.7 L1688.0 885.7 L1689.0 885.4 L1690.0 884.6 L1691.0 883.4 L1692.0 881.8 L1693.0 880.0 L1694.0 878.0 L1695.0 875.9 L1696.0 872.6 L1697.0 868.5 L1698.0 863.9 L1699.0 859.4 L1700.0 855.2 L1701.0 850.5 L1702.0 845.7 L1703.0 841.4 L1704.0 838.4 L1705.0 836.6 L1706.0 835.1 L1707.0 833.7 L1708.0 832.4 L1709.0 831.3 L1710.0 830.4 L1711.0 829.7 L1712.0 829.2 L1713.0 829.0 L1714.0 829.1 L1715.0 829.6 L1716.0 830.4 L1717.0 831.6 L1718.0 833.0 L1719.0 834.7 L1720.0 836.5 L1721.0 838.5 L1722.0 840.6 L1723.0 843.3 L1724.0 847.4 L1725.0 852.2 L1726.0 856.8 L1727.0 860.5 L1728.0 863.6 L1729.0 866.6 L1730.0 869.2 L1731.0 871.2 L1732.0 872.0 L1733.0 872.2 L1734.0 872.2 L1735.0 872.3 L1736.0 872.4 L1737.0 872.4 L1738.0 872.5 L1739.0 872.6 L1740.0 872.7 L1741.0 873.2 L1742.0 874.2 L1743.0 875.6 L1744.0 877.2 L1745.0 879.0 L1746.0 880.8 L1747.0 882.5 L1748.0 884.4 L1749.0 886.7 L1750.0 889.1 L1751.0 891.4 L1752.0 893.6 L1753.0 895.6 L1754.0 897.1 L1755.0 898.2 L1756.0 899.1 L1757.0 900.0 L1758.0 900.8 L1759.0 901.4 L1760.0 901.9 L1761.0 902.0 L1762.0 902.0 L1763.0 902.0 L1764.0 902.0 L1765.0 902.0 L1766.0 902.0 L1767.0 902.0 L1768.0 902.0 L1769.0 902.0 L1770.0 902.0 L1771.0 902.0 L1772.0 902.0 L1773.0 902.0 L1774.0 902.0 L1775.0 902.0 L1776.0 902.0 L1777.0 902.0 L1778.0 902.0 L1779.0 902.0 L1780.0 902.0 L1781.0 902.0 L1782.0 902.0 L1783.0 902.0 L1784.0 902.0 L1785.0 901.8 L1786.0 901.5 L1787.0 901.0 L1788.0 900.4 L1789.0 899.7 L1790.0 899.0 L1791.0 898.3 L1792.0 897.7 L1793.0 897.2 L1794.0 896.8 L1795.0 896.5 L1796.0 896.1 L1797.0 895.8 L1798.0 895.5 L1799.0 895.2 L1800.0 895.0 L1801.0 894.7 L1801.6 894.6"/>
<path stroke="#00ffff" stroke-width="8.0" d="M222.0 1208.7 L223.0 1208.5 L224.0 1208.3 L225.0 1206.4 L226.0 1206.2 L227.0 1206.0 L228.0 1207.3 L229.0 1207.1 L230.0 1206.8 L231.0 1205.9 L232.0 1205.6 L233.0 1205.2 L234.0 1206.3 L235.0 1206.0 L236.0 1205.6 L237.0 1204.5 L238.0 1204.0 L239.0 1203.6 L240.0 1201.8 L241.0 1201.3 L242.0 1200.9 L243.0 1201.8 L244.0 1201.3 L245.0 1200.8 L246.0 1197.7 L247.0 1197.1 L248.0 1196.9 L249.0 1200.6 L250.0 1201.2 L251.0 1201.9 L252.0 1203.3 L253.0 1204.1 L254.0 1204.8 L255.0 1201.4 L256.0 1202.3 L257.0 1203.2 L258.0 1206.9 L259.0 1207.7 L260.0 1208.5 L261.0 1206.7 L262.0 1207.3 L263.0 1207.7 L264.0 1211.9 L265.0 1212.4 L266.0 1212.8 L267.0 1213.0 L268.0 1213.4 L269.0 1213.8 L270.0 1212.2 L271.0 1212.5 L272.0 1212.7 L273.0 1215.1 L274.0 1215.2 L275.0 1215.3 L276.0 1212.7 L277.0 1212.7 L278.0 1212.7 L279.0 1212.2 L280.0 1212.2 L281.0 1212.1 L282.0 1212.1 L283.0 1212.0 L284.0 1211.9 L285.0 1212.5 L286.0 1212.4 L287.0 1212.3 L288.0 1211.9 L289.0 1211.8 L290.0 1211.6 L291.0 1212.4 L292.0 1212.3 L293.0 1212.2 L294.0 1210.7 L295.0 1210.6 L296.0 1210.6 L297.0 1212.9 L298.0 1212.9 L299.0 1212.9 L300.0 1213.3 L301.0 1213.3 L302.0 1213.4 L303.0 1210.7 L304.0 1210.8 L305.0 1210.9 L306.0 1212.0 L307.0 1212.2 L308.0 1212.3 L309.0 1213.6 L310.0 1213.8 L311.0 1213.9 L312.0 1214.8 L313.0 1214.9 L314.0 1215.1 L315.0 1212.9 L316.0 1213.0 L317.0 1213.1 L318.0 1211.2 L319.0 1211.2 L320.0 1211.2 L321.0 1207.2 L322.0 1207.2 L323.0 1207.2 L324.0 1216.2 L325.0 1216.2 L326.0 1216.2 L327.0 1210.2 L328.0 1210.2 L329.0 1210.2 L330.0 1214.3 L331.0 1214.3 L332.0 1214.3 L333.0 1212.9 L334.0 1212.9 L335.0 1212.9 L336.0 1212.0 L337.0 1212.0 L338.0 1212.0 L339.0 1214.4 L340.0 1214.4 L341.0 1214.4 L342.0 1211.2 L343.0 1211.2 L344.0 1211.2 L345.0 1214.0 L346.0 1214.0 L347.0 1214.0 L348.0 1215.8 L349.0 1215.8 L350.0 1215.8 L351.0 1213.8 L352.0 1213.8 L353.0 1213.8 L354.0 1212.0 L355.0 1212.0 L356.0 1212.0 L357.0 1210.4 L358.0 1210.4 L359.0 1210.4 L360.0 1211.2 L361.0 1211.2 L362.0 1211.2 L363.0 1210.3 L364.0 1210.3 L365.0 1210.3 L366.0 1216.3 L367.0 1216.3 L368.0 1216.3 L369.0 1213.1 L370.0 1213.1 L371.0 1213.1 L372.0 1211.7 L373.0 1211.7 L374.0 1211.7 L375.0 1211.2 L376.0 1211.2 L377.0 1211.2 L378.0 1211.6 L379.0 1211.6 L380.0 1211.6 L381.0 1212.9 L382.0 1212.9 L383.0 1212.9 L384.0 1211.2 L385.0 1211.2 L386.0 1211.2 L387.0 1216.5 L388.0 1216.5 L389.0 1216.5 L390.0 1212.2 L391.0 1212.2 L392.0 1212.2 L393.0 1212.1 L394.0 1212.1 L395.0 1212.1 L396.0 1214.0 L397.0 1214.0 L398.0 1214.0 L399.0 1216.1 L400.0 1216.1 L401.0 1216.1 L402.0 1215.8 L403.0 1215.8 L404.0 1215.8 L405.0 1212.6 L406.0 1212.6 L407.0 1212.6 L408.0 1213.9 L409.0 1213.9 L410.0 1213.9 L411.0 1213.8 L412.0 1213.8 L413.0 1213.8 L414.0 1214.4 L415.0 1214.4 L416.0 1214.4 L417.0 1214.0 L418.0 1214.0 L419.0 1214.0 L420.0 1211.8 L421.0 1211.8 L422.0 1211.8 L423.0 1211.3 L424.0 1211.3 L425.0 1211.3 L426.0 1213.8 L427.0 1213.8 L428.0 1213.8 L429.0 1207.5 L430.0 1207.5 L431.0 1207.5 L432.0 1215.9 L433.0 1215.9 L434.0 1215.9 L435.0 1213.6 L436.0 1213.6 L437.0 1213.6 L438.0 1211.7 L439.0 1211.7 L440.0 1211.7 L441.0 1212.9 L442.0 1212.9 L443.0 1212.9 L444.0 1212.5 L445.0 1212.5 L446.0 1212.4 L447.0 1213.0 L448.0 1213.0 L449.0 1212.9 L450.0 1214.7 L451.0 1214.6 L452.0 1214.5 L453.0 1210.2 L454.0 1210.1 L455.0 1210.0 L456.0 1209.1 L457.0 1209.0 L458.0 1208.8 L459.0 1212.6 L460.0 1212.4 L461.0 1212.2 L462.0 1211.2 L463.0 1211.0 L464.0 1210.8 L465.0 1213.7 L466.0 1213.5 L467.0 1213.3 L468.0 1211.2 L469.0 1211.0 L470.0 1210.8 L471.0 1209.4 L472.0 1209.1 L473.0 1208.8 L474.0 1210.0 L475.0 1209.6 L476.0 1209.0 L477.0 1205.5 L478.0 1204.9 L479.0 1204.4 L480.0 1205.4 L481.0 1204.7 L482.0 1204.1 L483.0 1203.6 L484.0 1203.0 L485.0 1202.5 L486.0 1202.0 L487.0 1201.6 L488.0 1201.1 L489.0 1200.6 L490.0 1200.0 L491.0 1199.4 L492.0 1198.7 L493.0 1197.9 L494.0 1197.1 L495.0 1196.1 L496.0 1195.0 L497.0 1193.7 L498.0 1192.1 L499.0 1189.6 L500.0 1186.6 L501.0 1183.4 L502.0 1179.9 L503.0 1175.8 L504.0 1170.9 L505.0 1164.6 L506.0 1157.0 L507.0 1148.8 L508.0 1140.6 L509.0 1132.7 L510.0 1124.8 L511.0 1116.9 L512.0 1108.9 L513.0 1100.8 L514.0 1092.9 L515.0 1085.0 L516.0 1077.2 L517.0 1069.3 L518.0 1061.5 L519.0 1053.8 L520.0 1046.1 L521.0 1038.5 L522.0 1031.1 L523.0 1024.0 L524.0 1017.6 L525.0 1011.5 L526.0 1005.3 L527.0 998.7 L528.0 991.1 L529.0 982.1 L530.0 970.3 L531.0 956.4 L532.0 942.0 L533.0 928.2 L534.0 914.6 L535.0 900.4 L536.0 885.0 L537.0 867.5 L538.0 848.5 L539.0 829.3 L540.0 810.1 L541.0 788.8 L542.0 765.2 L543.0 746.1 L544.0 730.1 L545.0 717.5 L546.0 707.8 L547.0 699.7 L548.0 693.0 L549.0 687.1 L550.0 681.1 L551.0 676.0 L552.0 672.9 L553.0 672.9 L554.0 676.0 L555.0 681.0 L556.0 687.0 L557.0 693.1 L558.0 700.2 L559.0 709.0 L560.0 720.0 L561.0 737.4 L562.0 759.7 L563.0 779.2 L564.0 796.4 L565.0 813.8 L566.0 834.0 L567.0 861.0 L568.0 891.3 L569.0 916.9 L570.0 937.7 L571.0 956.6 L572.0 975.3 L573.0 995.5 L574.0 1017.2 L575.0 1035.0 L576.0 1048.1 L577.0 1059.6 L578.0 1069.6 L579.0 1078.0 L580.0 1085.0 L581.0 1090.9 L582.0 1096.2 L583.0 1100.9 L584.0 1105.2 L585.0 1109.1 L586.0 1112.7 L587.0 1115.9 L588.0 1119.0 L589.0 1121.9 L590.0 1124.6 L591.0 1127.2 L592.0 1129.7 L593.0 1132.0 L594.0 1134.3 L595.0 1136.4 L596.0 1138.4 L597.0 1140.4 L598.0 1142.3 L599.0 1144.2 L600.0 1146.0 L601.0 1147.8 L602.0 1149.6 L603.0 1151.4 L604.0 1153.2 L605.0 1155.0 L606.0 1156.7 L607.0 1158.4 L608.0 1160.0 L609.0 1161.6 L610.0 1163.1 L611.0 1164.5 L612.0 1165.9 L613.0 1167.1 L614.0 1168.3 L615.0 1169.3 L616.0 1170.2 L617.0 1171.0 L618.0 1171.7 L619.0 1172.4 L620.0 1174.6 L621.0 1175.3 L622.0 1175.8 L623.0 1174.2 L624.0 1174.7 L625.0 1175.2 L626.0 1174.5 L627.0 1174.9 L628.0 1175.4 L629.0 1177.3 L630.0 1177.8 L631.0 1178.2 L632.0 1178.7 L633.0 1179.1 L634.0 1179.5 L635.0 1180.8 L636.0 1181.2 L637.0 1181.5 L638.0 1181.2 L639.0 1181.5 L640.0 1181.9 L641.0 1179.8 L642.0 1180.2 L643.0 1180.5 L644.0 1182.0 L645.0 1182.4 L646.0 1182.7 L647.0 1183.3 L648.0 1183.7 L649.0 1184.0 L650.0 1186.8 L651.0 1187.2 L652.0 1187.6 L653.0 1187.3 L654.0 1187.7 L655.0 1188.0 L656.0 1186.2 L657.0 1186.5 L658.0 1186.8 L659.0 1188.1 L660.0 1188.4 L661.0 1188.7 L662.0 1186.4 L663.0 1186.6 L664.0 1186.8 L665.0 1189.3 L666.0 1189.5 L667.0 1189.7 L668.0 1188.7 L669.0 1188.9 L670.0 1189.1 L671.0 1190.7 L672.0 1190.8 L673.0 1191.0 L674.0 1190.8 L675.0 1190.9 L676.0 1191.1 L677.0 1192.8 L678.0 1192.9 L679.0 1193.1 L680.0 1191.4 L681.0 1191.5 L682.0 1191.7 L683.0 1192.9 L684.0 1193.0 L685.0 1193.1 L686.0 1193.5 L687.0 1193.5 L688.0 1193.6 L689.0 1191.9 L690.0 1192.0 L691.0 1192.1 L692.0 1193.4 L693.0 1193.5 L694.0 1193.5 L695.0 1194.1 L696.0 1194.2 L697.0 1194.3 L698.0 1192.0 L699.0 1192.0 L700.0 1192.1 L701.0 1194.5 L702.0 1194.6 L703.0 1194.6 L704.0 1194.1 L705.0 1194.1 L706.0 1194.2 L707.0 1196.5 L708.0 1196.6 L709.0 1196.6 L710.0 1196.5 L711.0 1196.5 L712.0 1196.6 L713.0 1193.4 L714.0 1193.4 L715.0 1193.5 L716.0 1193.3 L717.0 1193.3 L718.0 1193.4 L719.0 1195.3 L720.0 1195.4 L721.0 1195.5 L722.0 1196.0 L723.0 1196.1 L724.0 1196.1 L725.0 1195.5 L726.0 1195.5 L727.0 1195.6 L728.0 1195.9 L729.0 1196.0 L730.0 1196.1 L731.0 1197.8 L732.0 1197.9 L733.0 1198.0 L734.0 1195.4 L735.0 1195.5 L736.0 1195.7 L737.0 1197.4 L738.0 1197.6 L739.0 1197.7 L740.0 1198.5 L741.0 1198.7 L742.0 1198.9 L743.0 1197.7 L744.0 1197.9 L745.0 1198.1 L746.0 1199.1 L747.0 1199.3 L748.0 1199.5 L749.0 1200.2 L750.0 1200.4 L751.0 1200.6 L752.0 1198.8 L753.0 1199.0 L754.0 1199.2 L755.0 1200.0 L756.0 1200.2 L757.0 1200.4 L758.0 1202.1 L759.0 1202.2 L760.0 1202.4 L761.0 1200.2 L762.0 1200.4 L763.0 1200.5 L764.0 1203.3 L765.0 1203.4 L766.0 1203.5 L767.0 1201.6 L768.0 1201.6 L769.0 1201.7 L770.0 1202.9 L771.0 1202.9 L772.0 1203.0 L773.0 1201.8 L774.0 1201.8 L775.0 1201.9 L776.0 1203.1 L777.0 1203.2 L778.0 1203.2 L779.0 1203.6 L780.0 1203.7 L781.0 1203.7 L782.0 1202.2 L783.0 1202.3 L784.0 1202.3 L785.0 1202.3 L786.0 1202.4 L787.0 1202.4 L788.0 1203.2 L789.0 1203.2 L790.0 1203.3 L791.0 1205.5 L792.0 1205.5 L793.0 1205.5 L794.0 1202.6 L795.0 1202.6 L796.0 1202.6 L797.0 1204.7 L798.0 1204.8 L799.0 1204.8 L800.0 1204.6 L801.0 1204.6 L802.0 1204.6 L803.0 1203.3 L804.0 1203.3 L805.0 1203.3 L806.0 1204.0 L807.0 1204.0 L808.0 1203.9 L809.0 1205.1 L810.0 1204.9 L811.0 1204.7 L812.0 1199.5 L813.0 1199.2 L814.0 1198.9 L815.0 1202.5 L816.0 1202.2 L817.0 1201.9 L818.0 1201.2 L819.0 1200.9 L820.0 1200.6 L821.0 1199.7 L822.0 1199.5 L823.0 1199.2 L824.0 1202.4 L825.0 1202.2 L826.0 1202.1 L827.0 1200.4 L828.0 1200.3 L829.0 1200.2 L830.0 1195.9 L831.0 1195.9 L832.0 1196.0 L833.0 1199.5 L834.0 1199.6 L835.0 1199.7 L836.0 1198.5 L837.0 1198.7 L838.0 1198.9 L839.0 1200.8 L840.0 1201.1 L841.0 1201.3 L842.0 1199.4 L843.0 1199.7 L844.0 1199.9 L845.0 1201.0 L846.0 1201.3 L847.0 1201.6 L848.0 1202.9 L849.0 1203.1 L850.0 1203.4 L851.0 1202.9 L852.0 1203.1 L853.0 1203.3 L854.0 1204.5 L855.0 1204.7 L856.0 1204.9 L857.0 1203.2 L858.0 1203.4 L859.0 1203.6 L860.0 1203.3 L861.0 1203.5 L862.0 1203.7 L863.0 1205.2 L864.0 1205.4 L865.0 1205.5 L866.0 1206.1 L867.0 1206.2 L868.0 1206.4 L869.0 1206.3 L870.0 1206.4 L871.0 1206.6 L872.0 1206.7 L873.0 1206.9 L874.0 1207.0 L875.0 1205.0 L876.0 1205.1 L877.0 1205.2 L878.0 1207.1 L879.0 1207.2 L880.0 1207.3 L881.0 1207.5 L882.0 1207.6 L883.0 1207.6 L884.0 1209.5 L885.0 1209.6 L886.0 1209.7 L887.0 1210.2 L888.0 1210.3 L889.0 1210.4 L890.0 1208.9 L891.0 1208.9 L892.0 1209.0 L893.0 1206.6 L894.0 1206.7 L895.0 1206.7 L896.0 1209.5 L897.0 1209.6 L898.0 1209.6 L899.0 1208.1 L900.0 1208.1 L901.0 1208.1 L902.0 1209.3 L903.0 1209.3 L904.0 1209.3 L905.0 1208.0 L906.0 1208.6 L907.0 1208.4 L908.0 1208.1 L909.0 1207.6 L910.0 1207.0 L911.0 1206.3 L912.0 1205.6 L913.0 1204.7 L914.0 1203.8 L915.0 1202.8 L916.0 1201.7 L917.0 1200.6 L918.0 1199.4 L919.0 1197.7 L920.0 1195.6 L921.0 1193.1 L922.0 1190.3 L923.0 1187.1 L924.0 1183.7 L925.0 1180.0 L926.0 1175.4 L927.0 1169.6 L928.0 1163.0 L929.0 1156.3 L930.0 1150.0 L931.0 1143.7 L932.0 1137.0 L933.0 1130.3 L934.0 1124.1 L935.0 1118.8 L936.0 1115.0 L937.0 1112.0 L938.0 1109.2 L939.0 1106.6 L940.0 1104.3 L941.0 1102.4 L942.0 1101.0 L943.0 1100.2 L944.0 1100.0 L945.0 1100.7 L946.0 1102.0 L947.0 1103.8 L948.0 1106.2 L949.0 1108.9 L950.0 1111.9 L951.0 1115.0 L952.0 1119.2 L953.0 1125.0 L954.0 1131.6 L955.0 1138.5 L956.0 1145.0 L957.0 1151.4 L958.0 1158.1 L959.0 1164.6 L960.0 1170.4 L961.0 1175.0 L962.0 1178.6 L963.0 1181.9 L964.0 1184.9 L965.0 1187.5 L966.0 1189.8 L967.0 1191.7 L968.0 1193.2 L969.0 1194.6 L970.0 1195.8 L971.0 1196.9 L972.0 1197.9 L973.0 1198.8 L974.0 1199.6 L975.0 1200.5 L976.0 1201.3 L977.0 1202.1 L978.0 1203.0 L979.0 1204.0 L980.0 1205.0 L981.0 1206.1 L982.0 1207.3 L983.0 1208.5 L984.0 1209.7 L985.0 1211.0 L986.0 1212.2 L987.0 1213.5 L988.0 1214.7 L989.0 1216.0 L990.0 1217.2 L991.0 1218.3 L992.0 1219.5 L993.0 1220.5 L994.0 1221.7 L995.0 1223.0 L996.0 1224.2 L997.0 1225.5 L998.0 1226.7 L999.0 1227.8 L1000.0 1228.7 L1001.0 1229.4 L1002.0 1229.8 L1003.0 1230.0 L1004.0 1229.9 L1005.0 1229.5 L1006.0 1228.9 L1007.0 1228.0 L1008.0 1227.1 L1009.0 1225.9 L1010.0 1224.7 L1011.0 1223.3 L1012.0 1221.9 L1013.0 1220.4 L1014.0 1219.0 L1015.0 1217.5 L1016.0 1216.1 L1017.0 1214.5 L1018.0 1212.8 L1019.0 1210.7 L1020.0 1208.2 L1021.0 1205.0 L1022.0 1198.9 L1023.0 1189.3 L1024.0 1178.8 L1025.0 1170.0 L1026.0 1162.7 L1027.0 1155.6 L1028.0 1149.0 L1029.0 1143.7 L1030.0 1140.0 L1031.0 1137.4 L1032.0 1135.0 L1033.0 1133.0 L1034.0 1131.4 L1035.0 1130.4 L1036.0 1130.0 L1037.0 1130.7 L1038.0 1132.6 L1039.0 1135.3 L1040.0 1138.6 L1041.0 1142.1 L1042.0 1145.6 L1043.0 1148.6 L1044.0 1151.0 L1045.0 1152.3 L1046.0 1152.3 L1047.0 1151.1 L1048.0 1148.9 L1049.0 1146.0 L1050.0 1142.5 L1051.0 1138.9 L1052.0 1135.4 L1053.0 1132.1 L1054.0 1129.4 L1055.0 1127.5 L1056.0 1126.1 L1057.0 1124.7 L1058.0 1123.4 L1059.0 1122.1 L1060.0 1120.9 L1061.0 1119.8 L1062.0 1118.8 L1063.0 1118.0 L1064.0 1117.2 L1065.0 1116.6 L1066.0 1116.2 L1067.0 1116.0 L1068.0 1116.0 L1069.0 1116.4 L1070.0 1117.1 L1071.0 1118.0 L1072.0 1119.2 L1073.0 1120.6 L1074.0 1122.2 L1075.0 1123.8 L1076.0 1125.6 L1077.0 1127.3 L1078.0 1129.1 L1079.0 1130.9 L1080.0 1132.5 L1081.0 1134.2 L1082.0 1136.1 L1083.0 1138.2 L1084.0 1140.4 L1085.0 1142.7 L1086.0 1145.0 L1087.0 1147.3 L1088.0 1149.5 L1089.0 1151.6 L1090.0 1153.6 L1091.0 1155.3 L1092.0 1156.8 L1093.0 1158.1 L1094.0 1159.3 L1095.0 1160.5 L1096.0 1161.6 L1097.0 1162.6 L1098.0 1163.6 L1099.0 1164.6 L1100.0 1165.4 L1101.0 1166.2 L1102.0 1167.0 L1103.0 1167.6 L1104.0 1168.2 L1105.0 1168.7 L1106.0 1169.2 L1107.0 1169.6 L1108.0 1170.0 L1109.0 1170.5 L1110.0 1170.9 L1111.0 1171.2 L1112.0 1171.6 L1113.0 1171.8 L1114.0 1172.1 L1115.0 1172.3 L1116.0 1172.4 L1117.0 1172.5 L1118.0 1172.5 L1119.0 1172.5 L1120.0 1172.4 L1121.0 1172.3 L1122.0 1172.1 L1123.0 1172.0 L1124.0 1171.8 L1125.0 1171.6 L1126.0 1171.4 L1127.0 1171.2 L1128.0 1170.9 L1129.0 1170.7 L1130.0 1170.5 L1131.0 1170.2 L1132.0 1170.0 L1133.0 1169.8 L1134.0 1169.6 L1135.0 1169.4 L1136.0 1169.3 L1137.0 1169.2 L1138.0 1169.1 L1139.0 1169.0 L1140.0 1169.0 L1141.0 1169.1 L1142.0 1169.5 L1143.0 1170.0 L1144.0 1170.7 L1145.0 1171.6 L1146.0 1172.5 L1147.0 1173.5 L1148.0 1174.5 L1149.0 1175.5 L1150.0 1176.5 L1151.0 1177.4 L1152.0 1178.3 L1153.0 1179.0 L1154.0 1179.5 L1155.0 1179.9 L1156.0 1180.0 L1157.0 1179.8 L1158.0 1179.3 L1159.0 1178.5 L1160.0 1177.5 L1161.0 1176.2 L1162.0 1174.8 L1163.0 1173.2 L1164.0 1171.6 L1165.0 1170.0 L1166.0 1167.9 L1167.0 1165.1 L1168.0 1161.8 L1169.0 1158.1 L1170.0 1154.1 L1171.0 1150.1 L1172.0 1146.3 L1173.0 1142.8 L1174.0 1139.8 L1175.0 1137.5 L1176.0 1135.6 L1177.0 1133.6 L1178.0 1131.7 L1179.0 1129.9 L1180.0 1128.1 L1181.0 1126.6 L1182.0 1125.2 L1183.0 1124.1 L1184.0 1123.2 L1185.0 1122.7 L1186.0 1122.5 L1187.0 1122.8 L1188.0 1123.5 L1189.0 1124.7 L1190.0 1126.2 L1191.0 1128.0 L1192.0 1129.9 L1193.0 1131.9 L1194.0 1134.0 L1195.0 1135.9 L1196.0 1137.7 L1197.0 1139.3 L1198.0 1140.7 L1199.0 1142.0 L1200.0 1143.5 L1201.0 1144.9 L1202.0 1146.4 L1203.0 1147.8 L1204.0 1149.2 L1205.0 1150.4 L1206.0 1151.5 L1207.0 1152.4 L1208.0 1153.1 L1209.0 1153.5 L1210.0 1153.7 L1211.0 1153.5 L1212.0 1153.0 L1213.0 1152.2 L1214.0 1151.1 L1215.0 1149.8 L1216.0 1148.4 L1217.0 1146.8 L1218.0 1145.1 L1219.0 1143.4 L1220.0 1141.6 L1221.0 1139.9 L1222.0 1138.3 L1223.0 1136.7 L1224.0 1135.3 L1225.0 1133.8 L1226.0 1132.3 L1227.0 1130.8 L1228.0 1129.2 L1229.0 1127.6 L1230.0 1125.9 L1231.0 1124.0 L1232.0 1122.1 L1233.0 1119.9 L1234.0 1117.7 L1235.0 1115.2 L1236.0 1112.5 L1237.0 1109.3 L1238.0 1105.5 L1239.0 1101.1 L1240.0 1096.1 L1241.0 1090.8 L1242.0 1085.1 L1243.0 1079.2 L1244.0 1073.1 L1245.0 1066.2 L1246.0 1058.3 L1247.0 1050.0 L1248.0 1041.5 L1249.0 1033.0 L1250.0 1025.0 L1251.0 1017.0 L1252.0 1008.6 L1253.0 1000.3 L1254.0 992.5 L1255.0 985.6 L1256.0 980.0 L1257.0 975.5 L1258.0 971.4 L1259.0 967.7 L1260.0 964.4 L1261.0 961.4 L1262.0 958.8 L1263.0 956.3 L1264.0 954.2 L1265.0 952.3 L1266.0 950.7 L1267.0 949.2 L1268.0 947.8 L1269.0 946.5 L1270.0 945.3 L1271.0 943.9 L1272.0 942.5 L1273.0 941.0 L1274.0 939.3 L1275.0 937.3 L1276.0 935.0 L1277.0 932.4 L1278.0 929.4 L1279.0 925.4 L1280.0 920.4 L1281.0 914.4 L1282.0 907.3 L1283.0 899.2 L1284.0 890.0 L1285.0 876.7 L1286.0 858.1 L1287.0 836.4 L1288.0 814.4 L1289.0 794.1 L1290.0 773.6 L1291.0 753.0 L1292.0 733.7 L1293.0 716.6 L1294.0 700.1 L1295.0 685.5 L1296.0 675.0 L1297.0 667.4 L1298.0 660.3 L1299.0 654.2 L1300.0 649.3 L1301.0 646.1 L1302.0 645.0 L1303.0 653.7 L1304.0 674.5 L1305.0 700.0 L1306.0 733.6 L1307.0 775.0 L1308.0 819.3 L1309.0 862.2 L1310.0 900.0 L1311.0 932.6 L1312.0 961.9 L1313.0 987.7 L1314.0 1012.5 L1315.0 1034.2 L1316.0 1050.0 L1317.0 1061.0 L1318.0 1070.3 L1319.0 1078.3 L1320.0 1085.2 L1321.0 1091.5 L1322.0 1097.2 L1323.0 1102.8 L1324.0 1108.2 L1325.0 1113.5 L1326.0 1118.4 L1327.0 1122.9 L1328.0 1126.8 L1329.0 1130.0 L1330.0 1132.5 L1331.0 1134.5 L1332.0 1136.4 L1333.0 1138.2 L1334.0 1139.8 L1335.0 1141.0 L1336.0 1141.9 L1337.0 1142.4 L1338.0 1142.4 L1339.0 1141.6 L1340.0 1140.0 L1341.0 1137.9 L1342.0 1135.2 L1343.0 1132.1 L1344.0 1128.6 L1345.0 1125.0 L1346.0 1120.4 L1347.0 1114.0 L1348.0 1106.1 L1349.0 1096.8 L1350.0 1086.4 L1351.0 1075.0 L1352.0 1059.6 L1353.0 1039.4 L1354.0 1018.3 L1355.0 1000.0 L1356.0 985.2 L1357.0 971.8 L1358.0 959.0 L1359.0 946.1 L1360.0 932.3 L1361.0 919.0 L1362.0 907.5 L1363.0 899.0 L1364.0 890.9 L1365.0 883.2 L1366.0 876.1 L1367.0 870.0 L1368.0 865.2 L1369.0 862.1 L1370.0 861.0 L1371.0 862.3 L1372.0 866.0 L1373.0 871.2 L1374.0 877.4 L1375.0 883.9 L1376.0 890.0 L1377.0 896.6 L1378.0 904.4 L1379.0 912.3 L1380.0 919.5 L1381.0 925.0 L1382.0 929.4 L1383.0 933.7 L1384.0 937.6 L1385.0 941.0 L1386.0 943.5 L1387.0 944.8 L1388.0 944.8 L1389.0 943.7 L1390.0 941.5 L1391.0 938.3 L1392.0 934.5 L1393.0 930.0 L1394.0 925.0 L1395.0 917.0 L1396.0 904.5 L1397.0 889.3 L1398.0 873.3 L1399.0 858.0 L1400.0 842.7 L1401.0 826.5 L1402.0 809.1 L1403.0 790.1 L1404.0 767.9 L1405.0 745.2 L1406.0 725.0 L1407.0 708.2 L1408.0 693.0 L1409.0 678.6 L1410.0 664.5 L1411.0 650.0 L1412.0 634.5 L1413.0 618.5 L1414.0 602.7 L1415.0 588.0 L1416.0 575.0 L1417.0 563.7 L1418.0 553.3 L1419.0 543.6 L1420.0 534.4 L1421.0 525.6 L1422.0 516.9 L1423.0 508.1 L1424.0 499.6 L1425.0 491.4 L1426.0 483.6 L1427.0 476.1 L1428.0 467.8 L1429.0 461.9 L1430.0 461.9 L1431.0 467.6 L1432.0 475.9 L1433.0 484.2 L1434.0 494.1 L1435.0 505.0 L1436.0 515.5 L1437.0 527.5 L1438.0 544.8 L1439.0 571.0 L1440.0 600.0 L1441.0 629.2 L1442.0 659.8 L1443.0 690.4 L1444.0 722.0 L1445.0 750.0 L1446.0 771.5 L1447.0 789.7 L1448.0 808.9 L1449.0 833.5 L1450.0 868.5 L1451.0 900.0 L1452.0 921.3 L1453.0 938.9 L1454.0 954.7 L1455.0 970.3 L1456.0 984.5 L1457.0 995.9 L1458.0 1003.5 L1459.0 1010.1 L1460.0 1016.0 L1461.0 1020.7 L1462.0 1023.9 L1463.0 1025.0 L1464.0 1023.7 L1465.0 1020.3 L1466.0 1015.5 L1467.0 1009.8 L1468.0 1003.9 L1469.0 998.3 L1470.0 991.9 L1471.0 984.6 L1472.0 976.9 L1473.0 969.4 L1474.0 962.8 L1475.0 957.5 L1476.0 953.0 L1477.0 948.6 L1478.0 944.2 L1479.0 940.1 L1480.0 936.4 L1481.0 933.1 L1482.0 930.5 L1483.0 928.6 L1484.0 927.6 L1485.0 927.8 L1486.0 929.9 L1487.0 933.8 L1488.0 939.0 L1489.0 944.9 L1490.0 951.2 L1491.0 957.5 L1492.0 964.3 L1493.0 972.4 L1494.0 981.3 L1495.0 990.7 L1496.0 1000.0 L1497.0 1010.3 L1498.0 1022.0 L1499.0 1033.5 L1500.0 1043.3 L1501.0 1050.0 L1502.0 1054.1 L1503.0 1057.5 L1504.0 1060.2 L1505.0 1062.5 L1506.0 1064.7 L1507.0 1066.8 L1508.0 1069.1 L1509.0 1071.7 L1510.0 1075.0 L1511.0 1079.1 L1512.0 1083.9 L1513.0 1089.2 L1514.0 1094.8 L1515.0 1100.3 L1516.0 1105.6 L1517.0 1110.4 L1518.0 1114.5 L1519.0 1118.4 L1520.0 1122.3 L1521.0 1125.9 L1522.0 1129.3 L1523.0 1132.4 L1524.0 1135.2 L1525.0 1137.5 L1526.0 1139.5 L1527.0 1141.5 L1528.0 1143.3 L1529.0 1144.9 L1530.0 1146.5 L1531.0 1147.9 L1532.0 1149.2 L1533.0 1150.4 L1534.0 1151.5 L1535.0 1152.5 L1536.0 1153.4 L1537.0 1154.3 L1538.0 1155.1 L1539.0 1155.9 L1540.0 1156.6 L1541.0 1157.4 L1542.0 1158.0 L1543.0 1158.7 L1544.0 1159.3 L1545.0 1159.9 L1546.0 1160.5 L1547.0 1161.0 L1548.0 1161.6 L1549.0 1162.1 L1550.0 1162.6 L1551.0 1163.0 L1552.0 1163.5 L1553.0 1163.9 L1554.0 1164.4 L1555.0 1164.8 L1556.0 1165.3 L1557.0 1165.8 L1558.0 1166.2 L1559.0 1166.7 L1560.0 1167.1 L1561.0 1167.5 L1562.0 1167.9 L1563.0 1168.3 L1564.0 1168.6 L1565.0 1169.0 L1566.0 1169.2 L1567.0 1169.5 L1568.0 1169.7 L1569.0 1169.8 L1570.0 1169.9 L1571.0 1170.0 L1572.0 1170.0 L1573.0 1170.0 L1574.0 1170.0 L1575.0 1169.9 L1576.0 1169.9 L1577.0 1169.8 L1578.0 1169.8 L1579.0 1169.7 L1580.0 1169.6 L1581.0 1169.6 L1582.0 1169.5 L1583.0 1169.4 L1584.0 1169.3 L1585.0 1169.1 L1586.0 1169.0 L1587.0 1168.6 L1588.0 1167.7 L1589.0 1166.4 L1590.0 1164.9 L1591.0 1163.2 L1592.0 1161.4 L1593.0 1159.7 L1594.0 1158.1 L1595.0 1156.8 L1596.0 1155.9 L1597.0 1155.4 L1598.0 1155.5 L1599.0 1156.0 L1600.0 1156.9 L1601.0 1158.0 L1602.0 1159.2 L1603.0 1160.9 L1604.0 1162.2 L1605.0 1163.5 L1606.0 1162.8 L1607.0 1163.7 L1608.0 1164.5 L1609.0 1167.2 L1610.0 1167.5 L1611.0 1167.7 L1612.0 1166.3 L1613.0 1166.5 L1614.0 1166.6 L1615.0 1167.5 L1616.0 1167.6 L1617.0 1167.8 L1618.0 1168.6 L1619.0 1168.9 L1620.0 1169.2 L1621.0 1167.8 L1622.0 1168.5 L1623.0 1169.4 L1624.0 1172.0 L1625.0 1173.0 L1626.0 1173.8 L1627.0 1175.7 L1628.0 1176.0 L1629.0 1175.8 L1630.0 1173.5 L1631.0 1173.0 L1632.0 1172.4 L1633.0 1171.6 L1634.0 1171.0 L1635.0 1170.5 L1636.0 1170.0 L1637.0 1169.7 L1638.0 1169.6 L1639.0 1170.4 L1640.0 1170.4 L1641.0 1170.4 L1642.0 1169.4 L1643.0 1169.4 L1644.0 1169.4 L1645.0 1169.3 L1646.0 1169.3 L1647.0 1169.3 L1648.0 1170.2 L1649.0 1170.2 L1650.0 1170.2 L1651.0 1171.4 L1652.0 1171.6 L1653.0 1172.0 L1654.0 1171.4 L1655.0 1172.2 L1656.0 1173.0 L1657.0 1173.1 L1658.0 1174.0 L1659.0 1174.9 L1660.0 1175.1 L1661.0 1175.8 L1662.0 1176.6 L1663.0 1178.9 L1664.0 1179.8 L1665.0 1180.6 L1666.0 1181.7 L1667.0 1182.3 L1668.0 1182.6 L1669.0 1183.9 L1670.0 1183.9 L1671.0 1183.8 L1672.0 1181.1 L1673.0 1181.0 L1674.0 1180.9 L1675.0 1181.6 L1676.0 1181.5 L1677.0 1181.3 L1678.0 1181.8 L1679.0 1181.7 L1680.0 1181.6 L1681.0 1180.7 L1682.0 1180.6 L1683.0 1180.6 L1684.0 1179.5 L1685.0 1179.6 L1686.0 1179.6 L1687.0 1179.6 L1688.0 1179.7 L1689.0 1179.8 L1690.0 1181.3 L1691.0 1181.4 L1692.0 1181.5 L1693.0 1182.1 L1694.0 1182.0 L1695.0 1179.3 L1696.0 1172.7 L1697.0 1166.8 L1698.0 1161.9 L1699.0 1159.4 L1700.0 1155.2 L1701.0 1150.2 L1702.0 1146.5 L1703.0 1143.0 L1704.0 1139.4 L1705.0 1135.9 L1706.0 1132.8 L1707.0 1130.4 L1708.0 1129.0 L1709.0 1127.9 L1710.0 1127.0 L1711.0 1126.2 L1712.0 1125.7 L1713.0 1125.4 L1714.0 1125.5 L1715.0 1126.1 L1716.0 1127.0 L1717.0 1128.3 L1718.0 1129.9 L1719.0 1131.6 L1720.0 1133.4 L1721.0 1135.3 L1722.0 1138.0 L1723.0 1141.3 L1724.0 1145.0 L1725.0 1148.9 L1726.0 1153.3 L1727.0 1159.4 L1728.0 1165.4 L1729.0 1169.4 L1730.0 1170.0 L1731.0 1170.0 L1732.0 1170.0 L1733.0 1170.0 L1734.0 1170.0 L1735.0 1170.0 L1736.0 1170.0 L1737.0 1170.0 L1738.0 1170.0 L1739.0 1170.0 L1740.0 1170.0 L1741.0 1170.6 L1742.0 1172.2 L1743.0 1174.4 L1744.0 1176.8 L1745.0 1179.1 L1746.0 1180.8 L1747.0 1181.8 L1748.0 1182.6 L1749.0 1183.3 L1750.0 1182.2 L1751.0 1182.7 L1752.0 1183.2 L1753.0 1184.6 L1754.0 1185.0 L1755.0 1185.5 L1756.0 1186.6 L1757.0 1187.2 L1758.0 1187.7 L1759.0 1186.9 L1760.0 1187.4 L1761.0 1187.9 L1762.0 1191.0 L1763.0 1191.4 L1764.0 1191.7 L1765.0 1190.8 L1766.0 1190.8 L1767.0 1190.8 L1768.0 1192.5 L1769.0 1192.4 L1770.0 1192.4 L1771.0 1188.8 L1772.0 1188.7 L1773.0 1188.6 L1774.0 1190.6 L1775.0 1190.5 L1776.0 1190.5 L1777.0 1190.4 L1778.0 1190.4 L1779.0 1190.4 L1780.0 1191.2 L1781.0 1191.3 L1782.0 1191.5 L1783.0 1189.7 L1784.0 1190.0 L1785.0 1190.3 L1786.0 1190.7 L1787.0 1191.0 L1788.0 1191.2 L1789.0 1193.0 L1790.0 1193.1 L1791.0 1193.1 L1792.0 1192.9 L1793.0 1192.9 L1794.0 1192.9 L1795.0 1191.9 L1796.0 1191.9 L1797.0 1191.9 L1798.0 1192.3 L1799.0 1192.3 L1800.0 1192.3 L1801.0 1192.8 L1801.6 1192.8"/>
<path stroke="#000000" stroke-width="8.0" d="M222.0 1548.4 L223.0 1548.5 L224.0 1548.6 L225.0 1546.7 L226.0 1546.8 L227.0 1546.8 L228.0 1548.1 L229.0 1548.2 L230.0 1548.2 L231.0 1547.2 L232.0 1547.2 L233.0 1547.2 L234.0 1547.7 L235.0 1547.7 L236.0 1547.7 L237.0 1548.3 L238.0 1548.2 L239.0 1548.0 L240.0 1548.5 L241.0 1548.2 L242.0 1547.9 L243.0 1547.6 L244.0 1547.3 L245.0 1547.0 L246.0 1545.5 L247.0 1545.3 L248.0 1545.1 L249.0 1544.1 L250.0 1544.0 L251.0 1544.4 L252.0 1545.9 L253.0 1547.3 L254.0 1549.0 L255.0 1551.9 L256.0 1553.1 L257.0 1553.8 L258.0 1554.3 L259.0 1554.6 L260.0 1554.9 L261.0 1555.6 L262.0 1555.8 L263.0 1556.0 L264.0 1553.8 L265.0 1553.8 L266.0 1553.8 L267.0 1555.2 L268.0 1555.2 L269.0 1555.2 L270.0 1555.5 L271.0 1555.5 L272.0 1555.5 L273.0 1555.2 L274.0 1555.2 L275.0 1555.1 L276.0 1554.5 L277.0 1554.5 L278.0 1554.4 L279.0 1554.9 L280.0 1554.9 L281.0 1554.8 L282.0 1554.9 L283.0 1554.8 L284.0 1554.8 L285.0 1553.9 L286.0 1553.9 L287.0 1553.9 L288.0 1554.1 L289.0 1554.1 L290.0 1554.1 L291.0 1553.3 L292.0 1553.3 L293.0 1553.3 L294.0 1552.3 L295.0 1552.2 L296.0 1552.2 L297.0 1555.3 L298.0 1555.3 L299.0 1555.3 L300.0 1553.5 L301.0 1553.5 L302.0 1553.5 L303.0 1554.1 L304.0 1554.1 L305.0 1554.1 L306.0 1555.9 L307.0 1555.9 L308.0 1555.9 L309.0 1552.5 L310.0 1552.5 L311.0 1552.5 L312.0 1555.2 L313.0 1555.2 L314.0 1555.2 L315.0 1553.9 L316.0 1553.9 L317.0 1553.9 L318.0 1553.7 L319.0 1553.7 L320.0 1553.7 L321.0 1554.6 L322.0 1554.6 L323.0 1554.6 L324.0 1553.6 L325.0 1553.6 L326.0 1553.6 L327.0 1556.8 L328.0 1556.8 L329.0 1556.8 L330.0 1552.7 L331.0 1552.7 L332.0 1552.7 L333.0 1554.4 L334.0 1554.4 L335.0 1554.4 L336.0 1552.9 L337.0 1552.9 L338.0 1552.9 L339.0 1553.4 L340.0 1553.4 L341.0 1553.4 L342.0 1553.0 L343.0 1553.0 L344.0 1553.0 L345.0 1553.0 L346.0 1553.0 L347.0 1553.0 L348.0 1555.3 L349.0 1555.3 L350.0 1555.3 L351.0 1556.8 L352.0 1556.8 L353.0 1556.8 L354.0 1556.8 L355.0 1556.8 L356.0 1556.8 L357.0 1556.1 L358.0 1556.1 L359.0 1556.1 L360.0 1555.2 L361.0 1555.2 L362.0 1555.2 L363.0 1556.6 L364.0 1556.6 L365.0 1556.6 L366.0 1552.8 L367.0 1552.8 L368.0 1552.8 L369.0 1553.8 L370.0 1553.8 L371.0 1553.8 L372.0 1552.6 L373.0 1552.6 L374.0 1552.6 L375.0 1554.5 L376.0 1554.5 L377.0 1554.5 L378.0 1555.1 L379.0 1555.1 L380.0 1555.1 L381.0 1554.6 L382.0 1554.6 L383.0 1554.6 L384.0 1554.9 L385.0 1554.9 L386.0 1554.9 L387.0 1555.0 L388.0 1555.0 L389.0 1555.0 L390.0 1554.6 L391.0 1554.6 L392.0 1554.6 L393.0 1552.9 L394.0 1552.9 L395.0 1552.9 L396.0 1554.3 L397.0 1554.3 L398.0 1554.3 L399.0 1553.5 L400.0 1553.5 L401.0 1553.4 L402.0 1553.8 L403.0 1553.7 L404.0 1553.7 L405.0 1556.0 L406.0 1555.9 L407.0 1555.9 L408.0 1556.1 L409.0 1556.1 L410.0 1556.0 L411.0 1552.5 L412.0 1552.4 L413.0 1552.3 L414.0 1553.5 L415.0 1553.4 L416.0 1553.3 L417.0 1552.8 L418.0 1552.7 L419.0 1552.6 L420.0 1554.1 L421.0 1554.0 L422.0 1553.8 L423.0 1552.7 L424.0 1552.6 L425.0 1552.5 L426.0 1551.1 L427.0 1550.9 L428.0 1550.8 L429.0 1552.1 L430.0 1552.0 L431.0 1551.9 L432.0 1551.2 L433.0 1551.1 L434.0 1551.0 L435.0 1550.1 L436.0 1550.0 L437.0 1549.9 L438.0 1548.4 L439.0 1548.3 L440.0 1548.1 L441.0 1550.3 L442.0 1550.1 L443.0 1550.0 L444.0 1548.9 L445.0 1548.8 L446.0 1548.6 L447.0 1549.9 L448.0 1549.7 L449.0 1549.6 L450.0 1550.2 L451.0 1550.1 L452.0 1549.8 L453.0 1551.6 L454.0 1551.4 L455.0 1551.2 L456.0 1547.5 L457.0 1547.2 L458.0 1547.0 L459.0 1546.5 L460.0 1546.3 L461.0 1546.0 L462.0 1544.9 L463.0 1544.6 L464.0 1544.4 L465.0 1545.7 L466.0 1545.5 L467.0 1545.2 L468.0 1542.4 L469.0 1542.1 L470.0 1541.8 L471.0 1543.4 L472.0 1543.2 L473.0 1542.9 L474.0 1542.6 L475.0 1542.4 L476.0 1542.1 L477.0 1541.8 L478.0 1541.5 L479.0 1541.2 L480.0 1540.9 L481.0 1540.5 L482.0 1540.1 L483.0 1539.7 L484.0 1539.2 L485.0 1538.7 L486.0 1538.1 L487.0 1537.3 L488.0 1536.5 L489.0 1535.5 L490.0 1534.4 L491.0 1533.1 L492.0 1531.8 L493.0 1530.5 L494.0 1529.0 L495.0 1527.5 L496.0 1525.9 L497.0 1524.1 L498.0 1522.0 L499.0 1519.8 L500.0 1517.3 L501.0 1514.6 L502.0 1511.6 L503.0 1508.2 L504.0 1503.9 L505.0 1498.8 L506.0 1493.3 L507.0 1487.7 L508.0 1482.3 L509.0 1477.0 L510.0 1471.5 L511.0 1465.9 L512.0 1460.2 L513.0 1454.3 L514.0 1448.1 L515.0 1441.7 L516.0 1435.0 L517.0 1428.2 L518.0 1421.2 L519.0 1414.3 L520.0 1407.5 L521.0 1400.9 L522.0 1394.5 L523.0 1388.1 L524.0 1381.6 L525.0 1374.7 L526.0 1367.5 L527.0 1359.8 L528.0 1351.6 L529.0 1343.0 L530.0 1334.1 L531.0 1325.0 L532.0 1316.0 L533.0 1306.8 L534.0 1296.8 L535.0 1285.0 L536.0 1269.5 L537.0 1250.9 L538.0 1232.5 L539.0 1215.1 L540.0 1198.0 L541.0 1182.4 L542.0 1168.3 L543.0 1154.3 L544.0 1139.4 L545.0 1123.8 L546.0 1110.0 L547.0 1098.7 L548.0 1088.8 L549.0 1079.5 L550.0 1070.1 L551.0 1060.0 L552.0 1048.2 L553.0 1035.6 L554.0 1024.4 L555.0 1016.0 L556.0 1008.4 L557.0 1003.3 L558.0 1003.5 L559.0 1010.3 L560.0 1020.0 L561.0 1033.7 L562.0 1051.4 L563.0 1067.8 L564.0 1082.5 L565.0 1099.4 L566.0 1125.0 L567.0 1160.0 L568.0 1182.9 L569.0 1204.5 L570.0 1238.2 L571.0 1275.0 L572.0 1297.4 L573.0 1315.6 L574.0 1331.1 L575.0 1345.0 L576.0 1358.1 L577.0 1370.1 L578.0 1381.1 L579.0 1391.1 L580.0 1400.0 L581.0 1408.2 L582.0 1416.0 L583.0 1423.4 L584.0 1430.2 L585.0 1436.5 L586.0 1442.4 L587.0 1447.6 L588.0 1452.3 L589.0 1456.7 L590.0 1460.8 L591.0 1464.7 L592.0 1468.4 L593.0 1471.8 L594.0 1475.0 L595.0 1478.1 L596.0 1481.0 L597.0 1483.7 L598.0 1486.3 L599.0 1488.7 L600.0 1491.1 L601.0 1493.3 L602.0 1495.5 L603.0 1497.5 L604.0 1499.5 L605.0 1501.4 L606.0 1503.2 L607.0 1505.0 L608.0 1506.7 L609.0 1508.4 L610.0 1510.0 L611.0 1511.6 L612.0 1513.3 L613.0 1514.9 L614.0 1516.6 L615.0 1518.1 L616.0 1519.5 L617.0 1520.9 L618.0 1522.0 L619.0 1523.0 L620.0 1523.7 L621.0 1524.3 L622.0 1524.9 L623.0 1525.4 L624.0 1525.9 L625.0 1526.4 L626.0 1526.8 L627.0 1527.2 L628.0 1527.6 L629.0 1528.0 L630.0 1528.3 L631.0 1528.7 L632.0 1529.0 L633.0 1529.3 L634.0 1529.5 L635.0 1529.8 L636.0 1530.1 L637.0 1530.3 L638.0 1530.5 L639.0 1530.8 L640.0 1530.3 L641.0 1530.5 L642.0 1530.7 L643.0 1531.8 L644.0 1532.0 L645.0 1532.2 L646.0 1531.5 L647.0 1531.7 L648.0 1531.9 L649.0 1532.5 L650.0 1532.7 L651.0 1532.8 L652.0 1533.2 L653.0 1533.3 L654.0 1533.5 L655.0 1533.0 L656.0 1533.1 L657.0 1533.3 L658.0 1533.8 L659.0 1533.9 L660.0 1534.1 L661.0 1534.1 L662.0 1534.3 L663.0 1534.4 L664.0 1533.9 L665.0 1534.1 L666.0 1534.3 L667.0 1535.2 L668.0 1535.4 L669.0 1535.7 L670.0 1535.6 L671.0 1535.8 L672.0 1536.0 L673.0 1535.4 L674.0 1535.7 L675.0 1535.9 L676.0 1537.2 L677.0 1537.4 L678.0 1537.6 L679.0 1537.8 L680.0 1538.0 L681.0 1538.2 L682.0 1538.0 L683.0 1538.1 L684.0 1538.2 L685.0 1537.2 L686.0 1537.2 L687.0 1537.3 L688.0 1539.3 L689.0 1539.3 L690.0 1539.4 L691.0 1539.3 L692.0 1539.3 L693.0 1539.3 L694.0 1539.3 L695.0 1539.3 L696.0 1539.3 L697.0 1539.1 L698.0 1539.1 L699.0 1539.1 L700.0 1538.0 L701.0 1538.0 L702.0 1538.0 L703.0 1539.0 L704.0 1539.1 L705.0 1539.1 L706.0 1538.4 L707.0 1538.4 L708.0 1538.4 L709.0 1540.7 L710.0 1540.8 L711.0 1540.8 L712.0 1538.9 L713.0 1539.0 L714.0 1539.1 L715.0 1540.0 L716.0 1540.1 L717.0 1540.2 L718.0 1538.7 L719.0 1538.8 L720.0 1538.9 L721.0 1539.2 L722.0 1539.3 L723.0 1539.4 L724.0 1540.0 L725.0 1540.1 L726.0 1540.2 L727.0 1541.2 L728.0 1541.3 L729.0 1541.4 L730.0 1541.4 L731.0 1541.5 L732.0 1541.6 L733.0 1541.5 L734.0 1541.6 L735.0 1541.6 L736.0 1540.2 L737.0 1540.3 L738.0 1540.4 L739.0 1542.6 L740.0 1542.7 L741.0 1542.7 L742.0 1541.3 L743.0 1541.4 L744.0 1541.4 L745.0 1543.3 L746.0 1543.4 L747.0 1543.4 L748.0 1543.6 L749.0 1543.7 L750.0 1543.7 L751.0 1543.1 L752.0 1543.1 L753.0 1543.1 L754.0 1543.3 L755.0 1543.4 L756.0 1543.4 L757.0 1541.8 L758.0 1541.9 L759.0 1541.9 L760.0 1544.7 L761.0 1544.8 L762.0 1544.8 L763.0 1543.2 L764.0 1543.2 L765.0 1543.2 L766.0 1543.9 L767.0 1543.9 L768.0 1543.9 L769.0 1542.6 L770.0 1542.7 L771.0 1542.7 L772.0 1543.3 L773.0 1543.4 L774.0 1543.4 L775.0 1542.6 L776.0 1542.7 L777.0 1542.7 L778.0 1543.4 L779.0 1543.5 L780.0 1543.5 L781.0 1543.8 L782.0 1543.8 L783.0 1543.8 L784.0 1544.1 L785.0 1544.1 L786.0 1544.1 L787.0 1545.0 L788.0 1545.1 L789.0 1545.1 L790.0 1544.5 L791.0 1544.5 L792.0 1544.6 L793.0 1544.5 L794.0 1544.5 L795.0 1544.6 L796.0 1544.5 L797.0 1544.5 L798.0 1544.6 L799.0 1546.0 L800.0 1546.1 L801.0 1546.1 L802.0 1544.3 L803.0 1544.3 L804.0 1544.4 L805.0 1545.7 L806.0 1545.8 L807.0 1545.8 L808.0 1543.6 L809.0 1543.6 L810.0 1543.6 L811.0 1544.5 L812.0 1544.5 L813.0 1544.5 L814.0 1545.5 L815.0 1545.5 L816.0 1545.6 L817.0 1545.2 L818.0 1545.2 L819.0 1545.2 L820.0 1547.5 L821.0 1547.6 L822.0 1547.6 L823.0 1547.3 L824.0 1547.3 L825.0 1547.3 L826.0 1544.4 L827.0 1544.4 L828.0 1544.4 L829.0 1544.7 L830.0 1544.7 L831.0 1544.7 L832.0 1545.4 L833.0 1545.3 L834.0 1545.3 L835.0 1546.6 L836.0 1546.6 L837.0 1546.5 L838.0 1546.0 L839.0 1545.9 L840.0 1545.8 L841.0 1545.2 L842.0 1545.1 L843.0 1545.0 L844.0 1543.6 L845.0 1543.5 L846.0 1543.4 L847.0 1543.8 L848.0 1543.7 L849.0 1543.6 L850.0 1542.1 L851.0 1542.1 L852.0 1542.0 L853.0 1542.7 L854.0 1542.7 L855.0 1542.6 L856.0 1544.0 L857.0 1543.9 L858.0 1543.9 L859.0 1544.1 L860.0 1544.1 L861.0 1544.1 L862.0 1542.5 L863.0 1542.5 L864.0 1542.4 L865.0 1543.4 L866.0 1543.3 L867.0 1543.2 L868.0 1544.2 L869.0 1541.4 L870.0 1536.4 L871.0 1532.6 L872.0 1534.6 L873.0 1538.8 L874.0 1542.0 L875.0 1543.0 L876.0 1543.3 L877.0 1544.1 L878.0 1544.1 L879.0 1544.1 L880.0 1544.1 L881.0 1544.1 L882.0 1544.1 L883.0 1543.8 L884.0 1543.8 L885.0 1543.8 L886.0 1543.3 L887.0 1543.3 L888.0 1543.3 L889.0 1543.4 L890.0 1543.4 L891.0 1543.4 L892.0 1544.2 L893.0 1544.2 L894.0 1544.2 L895.0 1543.3 L896.0 1543.3 L897.0 1543.3 L898.0 1544.7 L899.0 1544.7 L900.0 1544.7 L901.0 1544.3 L902.0 1544.3 L903.0 1544.3 L904.0 1544.5 L905.0 1544.5 L906.0 1543.6 L907.0 1543.2 L908.0 1542.7 L909.0 1541.9 L910.0 1541.0 L911.0 1540.0 L912.0 1538.9 L913.0 1537.6 L914.0 1536.3 L915.0 1535.0 L916.0 1533.4 L917.0 1531.4 L918.0 1529.0 L919.0 1526.3 L920.0 1523.3 L921.0 1520.1 L922.0 1516.7 L923.0 1513.2 L924.0 1509.1 L925.0 1504.6 L926.0 1499.6 L927.0 1494.3 L928.0 1488.9 L929.0 1483.3 L930.0 1476.8 L931.0 1469.8 L932.0 1462.8 L933.0 1456.3 L934.0 1451.0 L935.0 1446.1 L936.0 1441.4 L937.0 1437.3 L938.0 1434.1 L939.0 1432.0 L940.0 1430.3 L941.0 1428.8 L942.0 1427.5 L943.0 1426.6 L944.0 1426.1 L945.0 1426.1 L946.0 1427.0 L947.0 1428.7 L948.0 1431.0 L949.0 1433.7 L950.0 1436.8 L951.0 1440.0 L952.0 1444.2 L953.0 1449.9 L954.0 1456.5 L955.0 1463.4 L956.0 1470.0 L957.0 1476.6 L958.0 1483.7 L959.0 1490.8 L960.0 1497.2 L961.0 1502.5 L962.0 1507.0 L963.0 1511.2 L964.0 1515.1 L965.0 1518.6 L966.0 1521.6 L967.0 1524.0 L968.0 1525.9 L969.0 1527.5 L970.0 1529.0 L971.0 1530.4 L972.0 1531.7 L973.0 1532.8 L974.0 1533.8 L975.0 1534.6 L976.0 1535.3 L977.0 1535.8 L978.0 1536.2 L979.0 1536.5 L980.0 1536.8 L981.0 1537.0 L982.0 1537.3 L983.0 1537.5 L984.0 1537.8 L985.0 1538.0 L986.0 1538.1 L987.0 1538.3 L988.0 1538.4 L989.0 1538.5 L990.0 1538.6 L991.0 1538.7 L992.0 1538.7 L993.0 1538.7 L994.0 1538.7 L995.0 1538.6 L996.0 1538.4 L997.0 1538.3 L998.0 1538.1 L999.0 1537.9 L1000.0 1537.6 L1001.0 1537.3 L1002.0 1537.0 L1003.0 1536.7 L1004.0 1536.4 L1005.0 1536.0 L1006.0 1535.6 L1007.0 1535.0 L1008.0 1534.2 L1009.0 1533.3 L1010.0 1532.3 L1011.0 1531.1 L1012.0 1529.8 L1013.0 1528.3 L1014.0 1526.7 L1015.0 1525.0 L1016.0 1522.7 L1017.0 1519.6 L1018.0 1515.8 L1019.0 1511.5 L1020.0 1507.0 L1021.0 1502.5 L1022.0 1497.6 L1023.0 1492.1 L1024.0 1486.3 L1025.0 1480.5 L1026.0 1475.0 L1027.0 1469.5 L1028.0 1463.7 L1029.0 1458.2 L1030.0 1453.5 L1031.0 1450.0 L1032.0 1447.4 L1033.0 1444.9 L1034.0 1442.9 L1035.0 1441.5 L1036.0 1441.0 L1037.0 1441.6 L1038.0 1443.1 L1039.0 1445.4 L1040.0 1448.2 L1041.0 1451.4 L1042.0 1454.6 L1043.0 1457.8 L1044.0 1460.6 L1045.0 1462.9 L1046.0 1464.4 L1047.0 1465.0 L1048.0 1464.3 L1049.0 1462.6 L1050.0 1460.0 L1051.0 1457.0 L1052.0 1454.0 L1053.0 1451.1 L1054.0 1448.8 L1055.0 1447.5 L1056.0 1446.7 L1057.0 1446.0 L1058.0 1445.4 L1059.0 1444.7 L1060.0 1444.2 L1061.0 1443.7 L1062.0 1443.3 L1063.0 1442.9 L1064.0 1442.7 L1065.0 1442.6 L1066.0 1442.5 L1067.0 1442.7 L1068.0 1443.1 L1069.0 1443.8 L1070.0 1444.6 L1071.0 1445.7 L1072.0 1446.9 L1073.0 1448.2 L1074.0 1449.6 L1075.0 1451.1 L1076.0 1452.5 L1077.0 1454.2 L1078.0 1456.5 L1079.0 1459.0 L1080.0 1461.9 L1081.0 1464.8 L1082.0 1467.7 L1083.0 1470.5 L1084.0 1472.9 L1085.0 1475.0 L1086.0 1476.8 L1087.0 1478.5 L1088.0 1480.1 L1089.0 1481.7 L1090.0 1483.2 L1091.0 1484.6 L1092.0 1486.0 L1093.0 1487.3 L1094.0 1488.5 L1095.0 1489.7 L1096.0 1490.9 L1097.0 1492.0 L1098.0 1493.0 L1099.0 1494.1 L1100.0 1495.2 L1101.0 1496.2 L1102.0 1497.2 L1103.0 1498.2 L1104.0 1499.0 L1105.0 1499.8 L1106.0 1500.4 L1107.0 1500.8 L1108.0 1501.1 L1109.0 1501.4 L1110.0 1501.7 L1111.0 1501.9 L1112.0 1502.1 L1113.0 1502.4 L1114.0 1502.6 L1115.0 1502.7 L1116.0 1502.9 L1117.0 1503.1 L1118.0 1503.2 L1119.0 1503.3 L1120.0 1503.4 L1121.0 1503.5 L1122.0 1503.6 L1123.0 1503.7 L1124.0 1503.7 L1125.0 1503.7 L1126.0 1503.7 L1127.0 1503.6 L1128.0 1503.5 L1129.0 1503.3 L1130.0 1503.1 L1131.0 1502.9 L1132.0 1502.7 L1133.0 1502.5 L1134.0 1502.3 L1135.0 1502.2 L1136.0 1502.1 L1137.0 1502.0 L1138.0 1502.0 L1139.0 1502.1 L1140.0 1502.3 L1141.0 1502.5 L1142.0 1502.8 L1143.0 1503.1 L1144.0 1503.5 L1145.0 1503.9 L1146.0 1504.4 L1147.0 1504.8 L1148.0 1505.2 L1149.0 1505.9 L1150.0 1506.8 L1151.0 1507.7 L1152.0 1508.8 L1153.0 1509.8 L1154.0 1510.7 L1155.0 1511.5 L1156.0 1512.1 L1157.0 1512.5 L1158.0 1512.4 L1159.0 1511.9 L1160.0 1511.0 L1161.0 1509.7 L1162.0 1508.1 L1163.0 1506.3 L1164.0 1504.4 L1165.0 1502.5 L1166.0 1500.1 L1167.0 1496.7 L1168.0 1492.7 L1169.0 1488.3 L1170.0 1483.7 L1171.0 1479.0 L1172.0 1474.6 L1173.0 1470.7 L1174.0 1467.4 L1175.0 1465.0 L1176.0 1463.2 L1177.0 1461.4 L1178.0 1459.6 L1179.0 1457.9 L1180.0 1456.4 L1181.0 1454.9 L1182.0 1453.6 L1183.0 1452.5 L1184.0 1451.6 L1185.0 1450.8 L1186.0 1450.3 L1187.0 1450.0 L1188.0 1450.0 L1189.0 1450.3 L1190.0 1450.8 L1191.0 1451.5 L1192.0 1452.3 L1193.0 1453.2 L1194.0 1454.2 L1195.0 1455.2 L1196.0 1456.2 L1197.0 1457.1 L1198.0 1457.9 L1199.0 1458.9 L1200.0 1459.9 L1201.0 1461.1 L1202.0 1462.2 L1203.0 1463.3 L1204.0 1464.2 L1205.0 1465.0 L1206.0 1465.6 L1207.0 1466.0 L1208.0 1466.0 L1209.0 1466.0 L1210.0 1465.9 L1211.0 1465.8 L1212.0 1465.7 L1213.0 1465.5 L1214.0 1465.3 L1215.0 1465.1 L1216.0 1464.9 L1217.0 1464.6 L1218.0 1464.3 L1219.0 1464.0 L1220.0 1463.7 L1221.0 1463.2 L1222.0 1462.5 L1223.0 1461.5 L1224.0 1460.3 L1225.0 1458.9 L1226.0 1457.4 L1227.0 1455.7 L1228.0 1453.9 L1229.0 1452.0 L1230.0 1450.0 L1231.0 1447.8 L1232.0 1445.0 L1233.0 1441.9 L1234.0 1438.5 L1235.0 1434.8 L1236.0 1430.9 L1237.0 1427.0 L1238.0 1423.0 L1239.0 1418.5 L1240.0 1413.8 L1241.0 1408.8 L1242.0 1403.7 L1243.0 1398.5 L1244.0 1393.5 L1245.0 1388.5 L1246.0 1383.6 L1247.0 1378.5 L1248.0 1373.4 L1249.0 1368.0 L1250.0 1362.5 L1251.0 1356.3 L1252.0 1349.5 L1253.0 1342.5 L1254.0 1335.8 L1255.0 1329.8 L1256.0 1325.0 L1257.0 1321.2 L1258.0 1317.7 L1259.0 1314.6 L1260.0 1311.7 L1261.0 1309.2 L1262.0 1307.0 L1263.0 1305.1 L1264.0 1303.4 L1265.0 1301.9 L1266.0 1300.6 L1267.0 1299.4 L1268.0 1298.4 L1269.0 1297.3 L1270.0 1296.3 L1271.0 1295.2 L1272.0 1294.0 L1273.0 1292.7 L1274.0 1291.2 L1275.0 1289.5 L1276.0 1287.5 L1277.0 1285.0 L1278.0 1282.0 L1279.0 1278.4 L1280.0 1274.4 L1281.0 1269.9 L1282.0 1265.0 L1283.0 1259.9 L1284.0 1254.2 L1285.0 1247.7 L1286.0 1239.9 L1287.0 1230.5 L1288.0 1217.6 L1289.0 1196.4 L1290.0 1175.0 L1291.0 1157.6 L1292.0 1141.3 L1293.0 1125.0 L1294.0 1108.0 L1295.0 1091.0 L1296.0 1075.0 L1297.0 1059.5 L1298.0 1045.3 L1299.0 1034.7 L1300.0 1025.4 L1301.0 1018.0 L1302.0 1015.0 L1303.0 1020.0 L1304.0 1032.7 L1305.0 1050.0 L1306.0 1082.0 L1307.0 1125.0 L1308.0 1170.1 L1309.0 1211.3 L1310.0 1246.5 L1311.0 1275.0 L1312.0 1295.5 L1313.0 1312.6 L1314.0 1330.9 L1315.0 1350.0 L1316.0 1365.5 L1317.0 1379.5 L1318.0 1392.0 L1319.0 1403.3 L1320.0 1413.7 L1321.0 1423.5 L1322.0 1432.3 L1323.0 1440.2 L1324.0 1446.9 L1325.0 1453.1 L1326.0 1458.8 L1327.0 1463.8 L1328.0 1467.9 L1329.0 1470.8 L1330.0 1473.3 L1331.0 1475.6 L1332.0 1477.6 L1333.0 1479.1 L1334.0 1479.9 L1335.0 1479.9 L1336.0 1479.4 L1337.0 1478.4 L1338.0 1477.1 L1339.0 1475.3 L1340.0 1473.3 L1341.0 1471.1 L1342.0 1468.7 L1343.0 1466.1 L1344.0 1462.6 L1345.0 1458.0 L1346.0 1452.5 L1347.0 1446.0 L1348.0 1438.2 L1349.0 1426.4 L1350.0 1412.7 L1351.0 1400.0 L1352.0 1389.3 L1353.0 1379.3 L1354.0 1369.1 L1355.0 1358.0 L1356.0 1345.5 L1357.0 1332.0 L1358.0 1317.5 L1359.0 1302.0 L1360.0 1288.5 L1361.0 1275.6 L1362.0 1263.8 L1363.0 1254.4 L1364.0 1248.6 L1365.0 1244.0 L1366.0 1239.8 L1367.0 1236.1 L1368.0 1233.0 L1369.0 1230.7 L1370.0 1229.2 L1371.0 1228.7 L1372.0 1229.5 L1373.0 1231.8 L1374.0 1235.1 L1375.0 1239.2 L1376.0 1243.6 L1377.0 1247.9 L1378.0 1252.2 L1379.0 1257.5 L1380.0 1263.4 L1381.0 1269.0 L1382.0 1273.4 L1383.0 1276.3 L1384.0 1278.8 L1385.0 1281.0 L1386.0 1282.6 L1387.0 1283.6 L1388.0 1283.6 L1389.0 1282.7 L1390.0 1281.0 L1391.0 1278.7 L1392.0 1275.8 L1393.0 1272.5 L1394.0 1268.8 L1395.0 1262.6 L1396.0 1253.9 L1397.0 1243.7 L1398.0 1232.7 L1399.0 1221.7 L1400.0 1209.4 L1401.0 1195.9 L1402.0 1181.9 L1403.0 1168.0 L1404.0 1153.5 L1405.0 1138.9 L1406.0 1125.0 L1407.0 1112.1 L1408.0 1099.8 L1409.0 1087.6 L1410.0 1075.0 L1411.0 1062.0 L1412.0 1048.9 L1413.0 1035.2 L1414.0 1020.4 L1415.0 1003.9 L1416.0 986.6 L1417.0 970.0 L1418.0 955.0 L1419.0 940.5 L1420.0 925.0 L1421.0 907.1 L1422.0 888.5 L1423.0 871.9 L1424.0 855.7 L1425.0 841.1 L1426.0 830.0 L1427.0 822.0 L1428.0 815.3 L1429.0 809.7 L1430.0 805.0 L1431.0 800.5 L1432.0 796.6 L1433.0 795.0 L1434.0 796.2 L1435.0 799.2 L1436.0 803.0 L1437.0 806.9 L1438.0 811.1 L1439.0 816.8 L1440.0 825.0 L1441.0 845.3 L1442.0 875.0 L1443.0 908.2 L1444.0 941.1 L1445.0 972.8 L1446.0 1000.0 L1447.0 1021.3 L1448.0 1039.5 L1449.0 1056.7 L1450.0 1075.0 L1451.0 1095.7 L1452.0 1117.3 L1453.0 1137.7 L1454.0 1154.8 L1455.0 1170.5 L1456.0 1184.7 L1457.0 1196.0 L1458.0 1203.4 L1459.0 1209.9 L1460.0 1215.5 L1461.0 1219.8 L1462.0 1222.2 L1463.0 1222.3 L1464.0 1220.4 L1465.0 1217.2 L1466.0 1213.0 L1467.0 1208.2 L1468.0 1203.3 L1469.0 1198.6 L1470.0 1192.9 L1471.0 1186.3 L1472.0 1179.3 L1473.0 1172.6 L1474.0 1166.8 L1475.0 1162.5 L1476.0 1159.1 L1477.0 1155.8 L1478.0 1152.7 L1479.0 1149.7 L1480.0 1147.1 L1481.0 1144.9 L1482.0 1143.0 L1483.0 1141.8 L1484.0 1141.1 L1485.0 1141.5 L1486.0 1144.9 L1487.0 1150.9 L1488.0 1158.6 L1489.0 1166.9 L1490.0 1175.0 L1491.0 1183.6 L1492.0 1193.7 L1493.0 1204.5 L1494.0 1215.2 L1495.0 1225.0 L1496.0 1234.0 L1497.0 1242.8 L1498.0 1251.3 L1499.0 1259.6 L1500.0 1267.5 L1501.0 1275.0 L1502.0 1282.2 L1503.0 1289.1 L1504.0 1295.7 L1505.0 1302.2 L1506.0 1308.5 L1507.0 1314.6 L1508.0 1320.7 L1509.0 1326.8 L1510.0 1332.6 L1511.0 1338.2 L1512.0 1343.6 L1513.0 1348.9 L1514.0 1354.3 L1515.0 1359.9 L1516.0 1365.7 L1517.0 1371.8 L1518.0 1378.4 L1519.0 1386.0 L1520.0 1394.1 L1521.0 1402.1 L1522.0 1409.3 L1523.0 1415.4 L1524.0 1421.0 L1525.0 1426.3 L1526.0 1431.2 L1527.0 1435.7 L1528.0 1439.9 L1529.0 1443.6 L1530.0 1447.1 L1531.0 1450.4 L1532.0 1453.5 L1533.0 1456.4 L1534.0 1459.2 L1535.0 1461.8 L1536.0 1464.2 L1537.0 1466.4 L1538.0 1468.5 L1539.0 1470.5 L1540.0 1472.4 L1541.0 1474.2 L1542.0 1476.0 L1543.0 1477.6 L1544.0 1479.2 L1545.0 1480.7 L1546.0 1482.2 L1547.0 1483.6 L1548.0 1484.9 L1549.0 1486.2 L1550.0 1487.5 L1551.0 1488.7 L1552.0 1489.9 L1553.0 1491.1 L1554.0 1492.2 L1555.0 1493.4 L1556.0 1494.4 L1557.0 1495.5 L1558.0 1496.5 L1559.0 1497.5 L1560.0 1498.4 L1561.0 1499.3 L1562.0 1500.2 L1563.0 1501.0 L1564.0 1501.8 L1565.0 1502.5 L1566.0 1503.2 L1567.0 1504.0 L1568.0 1504.7 L1569.0 1505.5 L1570.0 1506.2 L1571.0 1506.9 L1572.0 1507.5 L1573.0 1508.1 L1574.0 1508.6 L1575.0 1509.0 L1576.0 1509.3 L1577.0 1509.5 L1578.0 1509.5 L1579.0 1509.5 L1580.0 1509.4 L1581.0 1509.4 L1582.0 1509.3 L1583.0 1509.2 L1584.0 1509.1 L1585.0 1508.9 L1586.0 1508.7 L1587.0 1507.4 L1588.0 1504.4 L1589.0 1500.8 L1590.0 1497.5 L1591.0 1495.4 L1592.0 1493.8 L1593.0 1492.4 L1594.0 1491.1 L1595.0 1490.3 L1596.0 1490.0 L1597.0 1490.3 L1598.0 1491.1 L1599.0 1492.3 L1600.0 1493.7 L1601.0 1495.2 L1602.0 1496.7 L1603.0 1498.1 L1604.0 1499.2 L1605.0 1500.3 L1606.0 1501.4 L1607.0 1502.6 L1608.0 1503.7 L1609.0 1504.8 L1610.0 1505.9 L1611.0 1506.8 L1612.0 1507.6 L1613.0 1508.2 L1614.0 1508.6 L1615.0 1508.7 L1616.0 1508.7 L1617.0 1508.7 L1618.0 1508.7 L1619.0 1508.7 L1620.0 1508.7 L1621.0 1508.7 L1622.0 1508.7 L1623.0 1508.7 L1624.0 1508.7 L1625.0 1508.7 L1626.0 1508.7 L1627.0 1508.7 L1628.0 1508.7 L1629.0 1508.7 L1630.0 1508.7 L1631.0 1508.7 L1632.0 1508.7 L1633.0 1508.7 L1634.0 1508.7 L1635.0 1508.7 L1636.0 1508.7 L1637.0 1508.7 L1638.0 1508.7 L1639.0 1508.7 L1640.0 1508.7 L1641.0 1508.7 L1642.0 1508.7 L1643.0 1508.7 L1644.0 1508.7 L1645.0 1508.6 L1646.0 1508.6 L1647.0 1508.6 L1648.0 1508.5 L1649.0 1508.5 L1650.0 1508.5 L1651.0 1508.4 L1652.0 1508.4 L1653.0 1508.3 L1654.0 1508.3 L1655.0 1508.2 L1656.0 1508.2 L1657.0 1508.1 L1658.0 1508.1 L1659.0 1508.0 L1660.0 1508.0 L1661.0 1508.0 L1662.0 1507.9 L1663.0 1507.9 L1664.0 1507.9 L1665.0 1507.9 L1666.0 1507.9 L1667.0 1507.9 L1668.0 1507.9 L1669.0 1507.9 L1670.0 1507.9 L1671.0 1507.9 L1672.0 1507.9 L1673.0 1507.9 L1674.0 1507.9 L1675.0 1507.9 L1676.0 1507.9 L1677.0 1507.9 L1678.0 1507.9 L1679.0 1507.9 L1680.0 1507.9 L1681.0 1507.9 L1682.0 1507.9 L1683.0 1507.9 L1684.0 1508.0 L1685.0 1508.6 L1686.0 1509.5 L1687.0 1510.4 L1688.0 1511.3 L1689.0 1511.9 L1690.0 1512.0 L1691.0 1511.2 L1692.0 1509.8 L1693.0 1507.7 L1694.0 1505.3 L1695.0 1502.5 L1696.0 1497.7 L1697.0 1491.4 L1698.0 1485.0 L1699.0 1479.4 L1700.0 1474.0 L1701.0 1468.8 L1702.0 1464.2 L1703.0 1460.7 L1704.0 1457.7 L1705.0 1455.1 L1706.0 1452.8 L1707.0 1451.1 L1708.0 1449.9 L1709.0 1448.8 L1710.0 1447.8 L1711.0 1447.0 L1712.0 1446.5 L1713.0 1446.2 L1714.0 1446.3 L1715.0 1446.8 L1716.0 1447.7 L1717.0 1448.9 L1718.0 1450.4 L1719.0 1452.1 L1720.0 1454.0 L1721.0 1456.2 L1722.0 1459.9 L1723.0 1464.7 L1724.0 1470.2 L1725.0 1475.8 L1726.0 1481.4 L1727.0 1488.4 L1728.0 1495.3 L1729.0 1500.5 L1730.0 1503.0 L1731.0 1504.8 L1732.0 1506.1 L1733.0 1506.9 L1734.0 1507.0 L1735.0 1507.0 L1736.0 1507.0 L1737.0 1507.0 L1738.0 1507.0 L1739.0 1507.0 L1740.0 1507.0 L1741.0 1507.6 L1742.0 1509.1 L1743.0 1511.4 L1744.0 1513.9 L1745.0 1516.6 L1746.0 1519.0 L1747.0 1521.0 L1748.0 1523.1 L1749.0 1525.3 L1750.0 1527.4 L1751.0 1529.2 L1752.0 1530.6 L1753.0 1531.4 L1754.0 1531.8 L1755.0 1532.2 L1756.0 1532.5 L1757.0 1532.8 L1758.0 1533.1 L1759.0 1533.3 L1760.0 1533.5 L1761.0 1533.6 L1762.0 1533.7 L1763.0 1533.8 L1764.0 1533.9 L1765.0 1534.0 L1766.0 1534.1 L1767.0 1534.1 L1768.0 1534.2 L1769.0 1534.3 L1770.0 1534.3 L1771.0 1534.4 L1772.0 1534.4 L1773.0 1534.5 L1774.0 1534.5 L1775.0 1534.5 L1776.0 1534.6 L1777.0 1534.6 L1778.0 1534.6 L1779.0 1534.6 L1780.0 1534.6 L1781.0 1534.6 L1782.0 1534.6 L1783.0 1534.6 L1784.0 1534.6 L1785.0 1534.6 L1786.0 1534.6 L1787.0 1534.6 L1788.0 1534.6 L1789.0 1534.6 L1790.0 1534.6 L1791.0 1534.6 L1792.0 1534.6 L1793.0 1534.6 L1794.0 1534.6 L1795.0 1534.6 L1796.0 1534.6 L1797.0 1534.6 L1798.0 1534.6 L1799.0 1534.6 L1800.0 1534.6 L1801.0 1534.6"/>
</g>
<g fill="none" stroke="#111" stroke-width="5.6" stroke-dasharray="23 20.75" stroke-dashoffset="3.75">
<path d="M1117 718.7 L1230.5 718.7 L1230.5 1568.7 L1117 1568.7"/>
<path d="M1117 718.7 L1117 1568.7" stroke-dasharray="23 21.1"/>
</g>
<g stroke="#000" stroke-width="5.0" fill="none" stroke-linecap="butt">
<path d="M222.5 1642.0 L222.5 26.0 L1802.0 26.0 L1802.0 1642.0"/>
<path d="M222.5 1614.8 L1802.0 1614.8"/>
<path d="M197.4 1559.5 L222.5 1559.5"/>
<path d="M207.3 1451.5 L222.5 1451.5"/>
<path d="M197.4 1343.5 L222.5 1343.5"/>
<path d="M207.3 1235.5 L222.5 1235.5"/>
<path d="M197.4 1127.5 L222.5 1127.5"/>
<path d="M207.3 1019.5 L222.5 1019.5"/>
<path d="M197.4 911.5 L222.5 911.5"/>
<path d="M207.3 803.5 L222.5 803.5"/>
<path d="M197.4 695.5 L222.5 695.5"/>
<path d="M207.3 587.5 L222.5 587.5"/>
<path d="M197.4 479.5 L222.5 479.5"/>
<path d="M207.3 371.5 L222.5 371.5"/>
<path d="M197.4 263.5 L222.5 263.5"/>
<path d="M207.3 155.5 L222.5 155.5"/>
<path d="M197.4 47.5 L222.5 47.5"/>
<path d="M1670.4 1614.8 L1670.4 1628.5"/>
<path d="M1538.8 1614.8 L1538.8 1642.0"/>
<path d="M1407.1 1614.8 L1407.1 1628.5"/>
<path d="M1275.5 1614.8 L1275.5 1642.0"/>
<path d="M1143.9 1614.8 L1143.9 1628.5"/>
<path d="M1012.2 1614.8 L1012.2 1642.0"/>
<path d="M880.6 1614.8 L880.6 1628.5"/>
<path d="M749.0 1614.8 L749.0 1642.0"/>
<path d="M617.4 1614.8 L617.4 1628.5"/>
<path d="M485.8 1614.8 L485.8 1642.0"/>
<path d="M354.1 1614.8 L354.1 1628.5"/>
</g>
<text transform="translate(179.6 1575.1) scale(0.955 1)" font-size="52.0" text-anchor="end">0</text>
<text transform="translate(179.6 1359.1) scale(0.955 1)" font-size="52.0" text-anchor="end">0.2</text>
<text transform="translate(179.6 1143.1) scale(0.955 1)" font-size="52.0" text-anchor="end">0.4</text>
<text transform="translate(179.6 927.1) scale(0.955 1)" font-size="52.0" text-anchor="end">0.6</text>
<text transform="translate(179.6 711.1) scale(0.955 1)" font-size="52.0" text-anchor="end">0.8</text>
<text transform="translate(179.6 495.1) scale(0.955 1)" font-size="52.0" text-anchor="end">1</text>
<text transform="translate(179.6 279.1) scale(0.955 1)" font-size="52.0" text-anchor="end">1.2</text>
<text transform="translate(179.6 63.1) scale(0.955 1)" font-size="52.0" text-anchor="end">1.4</text>
<text transform="translate(1802.3 1699.3) scale(0.955 1)" font-size="52.0" text-anchor="middle">800</text>
<text transform="translate(1539.0 1699.3) scale(0.955 1)" font-size="52.0" text-anchor="middle">1000</text>
<text transform="translate(1275.8 1699.3) scale(0.955 1)" font-size="52.0" text-anchor="middle">1200</text>
<text transform="translate(1012.5 1699.3) scale(0.955 1)" font-size="52.0" text-anchor="middle">1400</text>
<text transform="translate(749.3 1699.3) scale(0.955 1)" font-size="52.0" text-anchor="middle">1600</text>
<text transform="translate(486.1 1699.3) scale(0.955 1)" font-size="52.0" text-anchor="middle">1800</text>
<text transform="translate(222.8 1699.3) scale(0.955 1)" font-size="52.0" text-anchor="middle">2000</text>
<text transform="translate(739.5 1782.7) scale(0.972 1)" font-size="68.5" text-anchor="start">Wavenumer (cm</text>
<text transform="translate(1223.5 1756.2) scale(0.950 1)" font-size="40.0" text-anchor="start">-1</text>
<text transform="translate(1268.0 1782.7) scale(0.955 1)" font-size="68.5" text-anchor="start">)</text>
<text transform="translate(69.6 1099.3) rotate(-90) scale(1.037 1)" font-size="65.5">Absorbance (au)</text>
<g stroke-width="8.6" fill="none">
<path stroke="#ff7f0e" d="M1059.5 90 L1159.5 90"/>
<path stroke="#00ffff" d="M1059.5 144.3 L1159.5 144.3"/>
<path stroke="#000000" d="M1059.5 196.7 L1159.5 196.7"/>
</g>
<g font-size="45.5">
<text x="1167" y="105" textLength="222" lengthAdjust="spacingAndGlyphs">PL-LPSQ10</text>
<text x="1167" y="157" textLength="149" lengthAdjust="spacingAndGlyphs">PL-CNT</text>
<text x="1167" y="211" textLength="101" lengthAdjust="spacingAndGlyphs">PLLA</text>
</g>
<g fill="none">
<path d="M768.8 264.5 L1016.8 264.5" stroke="#000" stroke-width="3"/>
<path d="M768.8 647.8 L1016.8 647.8" stroke="#111" stroke-width="3"/>
<path d="M768.8 264.5 L768.8 647.8" stroke="#333" stroke-width="2.4"/>
<path d="M1015.3 264.5 L1015.3 647.8" stroke="#444" stroke-width="2.6"/>
<g stroke="#222" stroke-width="2">
<path d="M761 272.8 L769.8 272.8"/>
<path d="M761 300.7 L769.8 300.7"/>
<path d="M761 328.5 L769.8 328.5"/>
<path d="M761 356.4 L769.8 356.4"/>
<path d="M761 384.2 L769.8 384.2"/>
<path d="M761 412.1 L769.8 412.1"/>
<path d="M761 439.9 L769.8 439.9"/>
<path d="M761 467.8 L769.8 467.8"/>
<path d="M761 495.6 L769.8 495.6"/>
<path d="M761 523.5 L769.8 523.5"/>
<path d="M761 551.3 L769.8 551.3"/>
<path d="M761 579.2 L769.8 579.2"/>
<path d="M761 607.0 L769.8 607.0"/>
<path d="M761 634.9 L769.8 634.9"/>
<path d="M786.0 647.8 L786.0 659"/>
<path d="M895.0 647.8 L895.0 659"/>
<path d="M1003.0 647.8 L1003.0 659"/>
</g>
<clipPath id="ic"><rect x="766.8" y="264.5" width="252.0" height="383.3"/></clipPath>
<g clip-path="url(#ic)" stroke-width="3.8" stroke-linejoin="round">
<path stroke="#ff7f0e" d="M775.2 634.3 L777.2 618.3 L779.2 603.4 L781.2 590.0 L783.2 579.3 L785.2 571.6 L787.2 564.5 L789.2 555.2 L791.2 541.0 L793.2 501.7 L795.2 484.1 L797.2 472.3 L799.2 463.4 L801.2 454.8 L803.2 444.5 L805.2 434.5 L807.2 424.8 L809.2 415.0 L811.2 404.9 L813.2 394.1 L815.2 382.4 L817.2 370.8 L819.2 359.8 L821.2 349.5 L823.2 339.5 L825.2 330.4 L827.2 322.9 L829.2 316.3 L831.2 310.7 L833.2 306.6 L835.2 303.7 L837.2 301.5 L839.2 299.5 L841.2 297.9 L843.2 296.5 L845.2 295.2 L847.2 293.8 L849.2 292.0 L851.2 289.1 L853.2 285.2 L855.2 281.2 L857.2 278.3 L859.2 277.2 L861.2 281.2 L863.2 287.6 L865.2 291.9 L867.2 295.2 L869.2 298.3 L871.2 301.5 L873.2 305.2 L875.2 309.0 L877.2 313.4 L879.2 318.7 L881.2 325.4 L883.2 332.8 L885.2 340.3 L887.2 347.1 L889.2 353.8 L891.2 360.3 L893.2 366.8 L895.2 373.1 L897.2 379.3 L899.2 385.3 L901.2 391.2 L903.2 397.1 L905.2 402.8 L907.2 408.4 L909.2 413.7 L911.2 418.8 L913.2 423.6 L915.2 428.1 L917.2 432.5 L919.2 436.8 L921.2 441.3 L923.2 446.1 L925.2 451.1 L927.2 456.0 L929.2 460.3 L931.2 463.5 L933.2 465.8 L935.2 467.6 L937.2 469.2 L939.2 471.1 L941.2 473.6 L943.2 478.0 L945.2 483.5 L947.2 488.5 L949.2 491.7 L951.2 494.2 L953.2 496.2 L955.2 498.0 L957.2 499.3 L959.2 500.5 L961.2 501.6 L963.2 502.5 L965.2 502.9 L967.2 501.9 L969.2 498.3 L971.2 493.9 L973.2 490.4 L975.2 488.1 L977.2 486.0 L979.2 484.2 L981.2 482.3 L983.2 480.4 L985.2 478.5 L987.2 476.6 L989.2 474.6 L991.2 472.6 L993.2 470.4 L995.2 468.0 L997.2 465.4 L999.2 462.6 L1001.2 459.5 L1003.2 456.1 L1005.2 452.3 L1007.2 447.6 L1009.2 441.0 L1011.2 431.5 L1013.2 421.6 L1015.2 411.5 L1015.3 411.1"/>
<path stroke="#00ffff" d="M769.8 634.3 L771.8 626.0 L773.8 616.9 L775.8 607.1 L777.8 596.6 L779.8 584.4 L781.8 571.6 L783.8 559.6 L785.8 549.6 L787.8 540.9 L789.8 532.2 L791.8 522.1 L793.8 508.3 L795.8 491.9 L797.8 478.8 L799.8 467.5 L801.8 458.1 L803.8 452.1 L805.8 448.3 L807.8 445.6 L809.8 443.2 L811.8 440.7 L813.8 437.3 L815.8 432.3 L817.8 425.2 L819.8 417.1 L821.8 409.0 L823.8 400.8 L825.8 392.2 L827.8 384.1 L829.8 377.4 L831.8 371.6 L833.8 367.2 L835.8 364.8 L837.8 363.0 L839.8 361.5 L841.8 360.3 L843.8 359.3 L845.8 358.2 L847.8 357.2 L849.8 356.3 L851.8 355.6 L853.8 355.3 L855.8 355.6 L857.8 356.5 L859.8 357.9 L861.8 359.5 L863.8 361.3 L865.8 363.4 L867.8 366.0 L869.8 369.2 L871.8 372.6 L873.8 376.1 L875.8 379.8 L877.8 383.7 L879.8 387.9 L881.8 392.4 L883.8 397.2 L885.8 402.2 L887.8 407.7 L889.8 414.0 L891.8 420.9 L893.8 427.8 L895.8 434.6 L897.8 440.7 L899.8 446.0 L901.8 450.9 L903.8 455.5 L905.8 459.8 L907.8 464.0 L909.8 468.0 L911.8 472.0 L913.8 475.9 L915.8 479.8 L917.8 483.6 L919.8 487.3 L921.8 490.9 L923.8 494.3 L925.8 497.5 L927.8 500.6 L929.8 503.5 L931.8 506.4 L933.8 509.1 L935.8 511.7 L937.8 514.4 L939.8 517.3 L941.8 520.6 L943.8 524.0 L945.8 527.2 L947.8 529.7 L949.8 531.2 L951.8 531.2 L953.8 529.4 L955.8 526.6 L957.8 523.5 L959.8 520.3 L961.8 516.4 L963.8 512.1 L965.8 507.7 L967.8 503.0 L969.8 498.0 L971.8 493.1 L973.8 489.0 L975.8 486.0 L977.8 483.5 L979.8 481.2 L981.8 479.2 L983.8 477.3 L985.8 475.4 L987.8 473.4 L989.8 471.3 L991.8 469.3 L993.8 467.3 L995.8 465.4 L997.8 463.4 L999.8 461.8 L1001.8 460.0 L1003.8 453.4 L1005.8 439.6 L1007.8 434.6 L1009.8 431.1 L1011.8 427.9 L1013.8 424.1 L1015.3 421.1"/>
<path stroke="#000" d="M798.3 648.7 L800.3 632.1 L802.3 616.2 L804.3 601.1 L806.3 586.9 L808.3 573.3 L810.3 560.3 L812.3 547.8 L814.3 535.6 L816.3 523.7 L818.3 512.2 L820.3 501.2 L822.3 490.7 L824.3 480.9 L826.3 471.5 L828.3 462.6 L830.3 454.0 L832.3 445.8 L834.3 437.9 L836.3 430.2 L838.3 422.1 L840.3 413.4 L842.3 405.9 L844.3 401.0 L846.3 398.3 L848.3 396.2 L850.3 394.6 L852.3 393.4 L854.3 392.3 L856.3 391.3 L858.3 390.6 L860.3 390.1 L862.3 390.1 L864.3 391.2 L866.3 393.1 L868.3 395.5 L870.3 398.0 L872.3 401.6 L874.3 405.8 L876.3 410.3 L878.3 414.8 L880.3 419.1 L882.3 423.4 L884.3 427.8 L886.3 432.3 L888.3 437.1 L890.3 442.2 L892.3 447.8 L894.3 453.7 L896.3 459.6 L898.3 465.3 L900.3 470.8 L902.3 475.7 L904.3 480.3 L906.3 484.7 L908.3 489.0 L910.3 493.2 L912.3 497.5 L914.3 502.0 L916.3 506.9 L918.3 511.9 L920.3 516.6 L922.3 520.2 L924.3 523.0 L926.3 525.4 L928.3 527.5 L930.3 529.4 L932.3 531.3 L934.3 533.3 L936.3 535.6 L938.3 538.5 L940.3 541.9 L942.3 545.3 L944.3 548.3 L946.3 550.4 L948.3 551.3 L950.3 551.2 L952.3 551.1 L954.3 550.9 L956.3 550.5 L958.3 550.1 L960.3 549.7 L962.3 549.1 L964.3 548.1 L966.3 545.5 L968.3 541.9 L970.3 538.2 L972.3 535.0 L974.3 531.7 L976.3 528.3 L978.3 524.9 L980.3 521.5 L982.3 518.2 L984.3 514.7 L986.3 511.2 L988.3 507.3 L990.3 503.1 L992.3 498.5 L994.3 493.8 L996.3 489.2 L998.3 484.8 L1000.3 481.1 L1002.3 477.8 L1004.3 474.0 L1006.3 469.1 L1008.3 461.4 L1010.3 450.5 L1012.3 439.7 L1014.3 429.0 L1015.3 423.5"/>
</g>
<path d="M860.8 260.1 L860.8 553" stroke="#3a3a3a" stroke-width="3" stroke-dasharray="12 7.3"/>
<g stroke="#000" stroke-width="6.4">
<path d="M771.0 261.8 L1023.4 261.8" stroke-dasharray="21 15.8" stroke-dashoffset="12"/>
<path d="M771.0 656.5 L1023.4 656.5" stroke-dasharray="21 15.5" stroke-dashoffset="14"/>
<path d="M771.0 258.6 L771.0 659.7" stroke-dasharray="21 17.25" stroke-dashoffset="6.6"/>
<path d="M1020.2 258.6 L1020.2 659.7" stroke-dasharray="21 17.05" stroke-dashoffset="0.8"/>
</g>
</g>
<text x="821.5" y="622.8" font-size="38.4" textLength="144" lengthAdjust="spacingAndGlyphs" fill="#222">1267 cm</text>
<text x="965.5" y="609.3" font-size="26" textLength="22.5" lengthAdjust="spacingAndGlyphs" fill="#222">-1</text>
</svg></body></html>
